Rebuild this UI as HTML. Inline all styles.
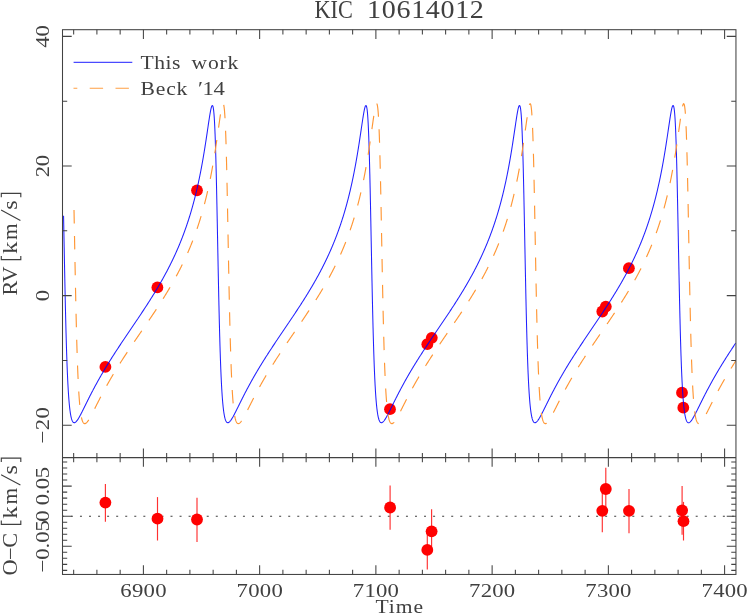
<!DOCTYPE html>
<html><head><meta charset="utf-8"><title>KIC 10614012</title>
<style>
html,body{margin:0;padding:0;background:#fff;}
body{width:747px;height:614px;overflow:hidden;position:relative;font-family:"Liberation Serif",serif;}
</style></head><body>
<svg width="747" height="614" viewBox="0 0 747 614" style="position:absolute;left:0;top:0;display:block;opacity:0.999;will-change:transform">
<rect x="0" y="0" width="747" height="614" fill="#ffffff"/>
<defs><clipPath id="cu"><rect x="62.5" y="29.7" width="673.45" height="427.90000000000003"/></clipPath></defs>
<g fill="#ff0000">
<circle cx="105.4" cy="366.9" r="5.9"/>
<circle cx="157.4" cy="287.4" r="5.9"/>
<circle cx="197.0" cy="190.3" r="5.9"/>
<circle cx="390.0" cy="409.2" r="5.9"/>
<circle cx="427.3" cy="344.2" r="5.9"/>
<circle cx="431.8" cy="337.8" r="5.9"/>
<circle cx="602.3" cy="311.5" r="5.9"/>
<circle cx="605.8" cy="306.6" r="5.9"/>
<circle cx="628.9" cy="268.2" r="5.9"/>
<circle cx="682.0" cy="392.7" r="5.9"/>
<circle cx="683.3" cy="407.7" r="5.9"/>
</g>
<g clip-path="url(#cu)" fill="none" stroke-linejoin="round">
<path d="M63.56,215.82 L63.62,218.66 L63.67,221.52 L63.73,224.39 L63.78,227.28 L63.84,230.17 L63.90,233.07 L63.95,235.97 L64.01,238.88 L64.07,241.78 L64.12,244.69 L64.18,247.60 L64.24,250.50 L64.29,253.39 L64.35,256.28 L64.40,259.15 L64.46,262.02 L64.52,264.87 L64.57,267.71 L64.63,270.54 L64.69,273.34 L64.74,276.13 L64.80,278.89 L64.86,281.64 L64.91,284.36 L64.97,287.06 L65.02,289.74 L65.08,292.39 L65.14,295.01 L65.19,297.60 L65.25,300.17 L65.31,302.70 L65.36,305.21 L65.42,307.68 L65.48,310.12 L65.53,312.54 L65.59,314.91 L65.64,317.26 L65.70,319.57 L65.76,321.85 L65.81,324.10 L65.87,326.31 L65.93,328.48 L65.98,330.62 L66.04,332.73 L66.10,334.80 L66.15,336.84 L66.21,338.85 L66.27,340.81 L66.32,342.75 L66.38,344.65 L66.43,346.51 L66.49,348.34 L66.55,350.14 L66.60,351.90 L66.66,353.63 L66.72,355.33 L66.77,357.00 L66.83,358.63 L66.89,360.23 L66.94,361.80 L67.00,363.33 L67.05,364.84 L67.11,366.31 L67.17,367.76 L67.22,369.17 L67.28,370.56 L67.34,371.91 L67.39,373.24 L67.45,374.54 L67.51,375.81 L67.56,377.05 L67.62,378.27 L67.67,379.46 L67.73,380.62 L67.79,381.76 L67.84,382.88 L67.90,383.96 L67.96,385.03 L68.01,386.07 L68.07,387.08 L68.13,388.08 L68.18,389.05 L68.24,390.00 L68.29,390.92 L68.35,391.83 L68.41,392.71 L68.46,393.58 L68.52,394.42 L68.58,395.25 L68.63,396.05 L68.69,396.84 L68.75,397.60 L68.80,398.35 L68.86,399.08 L68.91,399.80 L68.97,400.49 L69.03,401.17 L69.08,401.83 L69.14,402.48 L69.20,403.11 L69.25,403.73 L69.31,404.33 L69.42,405.48 L69.53,406.58 L69.65,407.62 L69.76,408.61 L69.87,409.55 L69.99,410.45 L70.10,411.29 L70.21,412.10 L70.32,412.86 L70.44,413.58 L70.55,414.26 L70.66,414.90 L70.78,415.51 L70.94,416.36 L71.11,417.13 L71.28,417.84 L71.45,418.49 L71.62,419.07 L71.85,419.77 L72.07,420.37 L72.35,421.00 L72.69,421.61 L73.09,422.13 L73.59,422.55 L74.21,422.72 L74.83,422.61 L75.40,422.30 L75.91,421.88 L76.36,421.42 L76.75,420.95 L77.15,420.44 L77.54,419.89 L77.88,419.38 L78.22,418.85 L78.55,418.30 L78.89,417.73 L79.23,417.14 L79.57,416.54 L79.91,415.93 L80.25,415.30 L80.58,414.67 L80.87,414.13 L81.15,413.59 L81.43,413.04 L81.71,412.49 L81.99,411.94 L82.28,411.38 L82.56,410.82 L82.84,410.26 L83.12,409.69 L83.40,409.13 L83.69,408.56 L83.97,407.99 L84.25,407.42 L84.53,406.85 L84.81,406.28 L85.09,405.71 L85.38,405.14 L85.66,404.57 L85.94,404.00 L86.22,403.43 L86.50,402.86 L86.79,402.29 L87.07,401.72 L87.35,401.16 L87.63,400.59 L87.91,400.03 L88.20,399.46 L88.48,398.90 L88.76,398.34 L89.04,397.78 L89.32,397.22 L89.60,396.67 L89.89,396.11 L90.17,395.56 L90.45,395.01 L90.73,394.46 L91.01,393.91 L91.30,393.36 L91.58,392.82 L91.86,392.28 L92.14,391.73 L92.42,391.19 L92.71,390.66 L92.99,390.12 L93.27,389.58 L93.55,389.05 L93.83,388.52 L94.17,387.89 L94.51,387.25 L94.85,386.62 L95.19,386.00 L95.52,385.37 L95.86,384.75 L96.20,384.13 L96.54,383.51 L96.88,382.89 L97.22,382.28 L97.55,381.67 L97.89,381.06 L98.23,380.46 L98.57,379.85 L98.91,379.25 L99.24,378.65 L99.58,378.06 L99.92,377.46 L100.26,376.87 L100.60,376.28 L100.94,375.69 L101.27,375.11 L101.61,374.52 L101.95,373.94 L102.29,373.36 L102.63,372.79 L102.97,372.21 L103.30,371.64 L103.64,371.06 L103.98,370.50 L104.32,369.93 L104.66,369.36 L105.00,368.80 L105.33,368.23 L105.67,367.67 L106.01,367.12 L106.35,366.56 L106.69,366.00 L107.02,365.45 L107.36,364.90 L107.70,364.35 L108.04,363.80 L108.38,363.25 L108.72,362.70 L109.05,362.16 L109.39,361.62 L109.73,361.07 L110.07,360.53 L110.41,359.99 L110.75,359.46 L111.08,358.92 L111.42,358.39 L111.76,357.85 L112.10,357.32 L112.44,356.79 L112.77,356.26 L113.11,355.73 L113.45,355.20 L113.79,354.68 L114.13,354.15 L114.47,353.63 L114.80,353.10 L115.14,352.58 L115.48,352.06 L115.82,351.54 L116.16,351.02 L116.50,350.50 L116.83,349.98 L117.17,349.47 L117.51,348.95 L117.85,348.43 L118.19,347.92 L118.53,347.41 L118.86,346.89 L119.20,346.38 L119.54,345.87 L119.88,345.36 L120.22,344.85 L120.55,344.34 L120.89,343.83 L121.23,343.32 L121.57,342.82 L121.91,342.31 L122.25,341.80 L122.58,341.30 L122.92,340.79 L123.26,340.29 L123.60,339.78 L123.94,339.28 L124.28,338.78 L124.61,338.27 L124.95,337.77 L125.29,337.27 L125.63,336.77 L125.97,336.27 L126.31,335.76 L126.64,335.26 L126.98,334.76 L127.32,334.26 L127.66,333.76 L128.00,333.26 L128.33,332.76 L128.67,332.26 L129.01,331.76 L129.35,331.26 L129.69,330.76 L130.03,330.26 L130.36,329.76 L130.70,329.26 L131.04,328.76 L131.38,328.26 L131.72,327.77 L132.06,327.27 L132.39,326.77 L132.73,326.27 L133.07,325.77 L133.41,325.27 L133.75,324.77 L134.08,324.27 L134.42,323.77 L134.76,323.27 L135.10,322.76 L135.44,322.26 L135.78,321.76 L136.11,321.26 L136.45,320.76 L136.79,320.26 L137.13,319.75 L137.47,319.25 L137.81,318.75 L138.14,318.24 L138.48,317.74 L138.82,317.23 L139.16,316.73 L139.50,316.22 L139.84,315.71 L140.17,315.21 L140.51,314.70 L140.85,314.19 L141.19,313.68 L141.53,313.17 L141.86,312.66 L142.20,312.15 L142.54,311.64 L142.88,311.13 L143.22,310.62 L143.56,310.10 L143.89,309.59 L144.23,309.07 L144.57,308.56 L144.91,308.04 L145.25,307.52 L145.59,307.00 L145.92,306.48 L146.26,305.96 L146.60,305.44 L146.94,304.92 L147.28,304.39 L147.61,303.87 L147.95,303.34 L148.29,302.82 L148.63,302.29 L148.97,301.76 L149.31,301.23 L149.64,300.70 L149.98,300.16 L150.32,299.63 L150.66,299.09 L151.00,298.56 L151.34,298.02 L151.67,297.48 L152.01,296.94 L152.35,296.39 L152.69,295.85 L153.03,295.30 L153.37,294.76 L153.70,294.21 L154.04,293.66 L154.38,293.11 L154.72,292.55 L155.06,292.00 L155.39,291.44 L155.73,290.88 L156.07,290.32 L156.41,289.76 L156.75,289.19 L157.09,288.63 L157.42,288.06 L157.76,287.49 L158.10,286.92 L158.44,286.34 L158.78,285.77 L159.12,285.19 L159.45,284.61 L159.79,284.03 L160.13,283.44 L160.47,282.85 L160.81,282.26 L161.15,281.67 L161.48,281.08 L161.82,280.48 L162.16,279.88 L162.50,279.28 L162.84,278.68 L163.17,278.07 L163.51,277.46 L163.85,276.85 L164.19,276.23 L164.53,275.61 L164.87,274.99 L165.20,274.37 L165.54,273.74 L165.88,273.11 L166.22,272.48 L166.50,271.95 L166.78,271.41 L167.06,270.88 L167.35,270.34 L167.63,269.80 L167.91,269.26 L168.19,268.72 L168.47,268.17 L168.76,267.62 L169.04,267.07 L169.32,266.52 L169.60,265.96 L169.88,265.40 L170.17,264.84 L170.45,264.28 L170.73,263.71 L171.01,263.14 L171.29,262.57 L171.57,261.99 L171.86,261.41 L172.14,260.83 L172.42,260.25 L172.70,259.66 L172.98,259.07 L173.27,258.48 L173.55,257.88 L173.83,257.28 L174.11,256.68 L174.39,256.07 L174.68,255.46 L174.96,254.85 L175.24,254.23 L175.52,253.61 L175.80,252.98 L176.08,252.36 L176.37,251.72 L176.65,251.09 L176.93,250.45 L177.21,249.81 L177.49,249.16 L177.78,248.51 L178.06,247.85 L178.34,247.19 L178.62,246.53 L178.90,245.86 L179.19,245.19 L179.47,244.51 L179.75,243.83 L180.03,243.14 L180.31,242.45 L180.54,241.89 L180.76,241.33 L180.99,240.77 L181.21,240.20 L181.44,239.64 L181.67,239.06 L181.89,238.49 L182.12,237.91 L182.34,237.33 L182.57,236.74 L182.79,236.15 L183.02,235.56 L183.24,234.96 L183.47,234.36 L183.70,233.75 L183.92,233.15 L184.15,232.53 L184.37,231.92 L184.60,231.30 L184.82,230.68 L185.05,230.05 L185.27,229.42 L185.50,228.78 L185.72,228.14 L185.95,227.49 L186.18,226.84 L186.40,226.19 L186.63,225.53 L186.85,224.87 L187.08,224.20 L187.30,223.53 L187.53,222.85 L187.75,222.17 L187.98,221.48 L188.21,220.79 L188.43,220.10 L188.66,219.39 L188.88,218.69 L189.11,217.97 L189.33,217.25 L189.56,216.53 L189.78,215.80 L190.01,215.07 L190.23,214.32 L190.46,213.58 L190.69,212.82 L190.91,212.06 L191.14,211.30 L191.31,210.72 L191.48,210.14 L191.64,209.55 L191.81,208.96 L191.98,208.37 L192.15,207.78 L192.32,207.17 L192.49,206.57 L192.66,205.96 L192.83,205.35 L193.00,204.73 L193.17,204.11 L193.34,203.49 L193.50,202.86 L193.67,202.23 L193.84,201.59 L194.01,200.95 L194.18,200.30 L194.35,199.65 L194.52,199.00 L194.69,198.34 L194.86,197.67 L195.03,197.00 L195.20,196.33 L195.37,195.65 L195.53,194.97 L195.70,194.28 L195.87,193.59 L196.04,192.89 L196.21,192.18 L196.38,191.48 L196.55,190.76 L196.72,190.04 L196.89,189.32 L197.06,188.59 L197.23,187.85 L197.39,187.11 L197.56,186.36 L197.73,185.61 L197.90,184.85 L198.07,184.08 L198.24,183.31 L198.41,182.54 L198.58,181.75 L198.75,180.96 L198.92,180.17 L199.09,179.37 L199.25,178.56 L199.42,177.74 L199.59,176.92 L199.76,176.09 L199.93,175.26 L200.10,174.42 L200.27,173.57 L200.44,172.71 L200.61,171.85 L200.78,170.98 L200.95,170.10 L201.12,169.22 L201.23,168.62 L201.34,168.03 L201.45,167.42 L201.57,166.82 L201.68,166.21 L201.79,165.60 L201.90,164.99 L202.02,164.37 L202.13,163.75 L202.24,163.13 L202.36,162.50 L202.47,161.87 L202.58,161.23 L202.69,160.60 L202.81,159.95 L202.92,159.31 L203.03,158.66 L203.14,158.01 L203.26,157.35 L203.37,156.69 L203.48,156.03 L203.60,155.36 L203.71,154.69 L203.82,154.02 L203.93,153.34 L204.05,152.66 L204.16,151.98 L204.27,151.29 L204.39,150.60 L204.50,149.90 L204.61,149.21 L204.72,148.50 L204.84,147.80 L204.95,147.09 L205.06,146.38 L205.17,145.66 L205.29,144.95 L205.40,144.22 L205.51,143.50 L205.63,142.77 L205.74,142.04 L205.85,141.31 L205.96,140.57 L206.08,139.83 L206.19,139.09 L206.30,138.35 L206.41,137.60 L206.53,136.85 L206.64,136.10 L206.75,135.34 L206.87,134.59 L206.98,133.83 L207.09,133.07 L207.20,132.31 L207.32,131.55 L207.43,130.79 L207.54,130.03 L207.65,129.26 L207.77,128.50 L207.88,127.74 L207.99,126.97 L208.11,126.21 L208.22,125.45 L208.33,124.69 L208.44,123.93 L208.56,123.18 L208.67,122.43 L208.78,121.68 L208.90,120.93 L209.01,120.19 L209.12,119.46 L209.23,118.73 L209.35,118.01 L209.46,117.29 L209.57,116.59 L209.68,115.89 L209.80,115.20 L209.91,114.52 L210.02,113.86 L210.14,113.21 L210.25,112.57 L210.36,111.95 L210.47,111.34 L210.64,110.47 L210.81,109.64 L210.98,108.87 L211.15,108.15 L211.32,107.50 L211.49,106.92 L211.71,106.28 L212.00,105.71 L212.62,105.62 L212.90,106.23 L213.07,106.83 L213.24,107.64 L213.35,108.29 L213.46,109.05 L213.57,109.91 L213.69,110.88 L213.80,111.98 L213.91,113.19 L213.97,113.85 L214.03,114.54 L214.08,115.26 L214.14,116.02 L214.19,116.81 L214.25,117.64 L214.31,118.50 L214.36,119.40 L214.42,120.34 L214.48,121.32 L214.53,122.34 L214.59,123.40 L214.65,124.50 L214.70,125.64 L214.76,126.83 L214.81,128.05 L214.87,129.32 L214.93,130.63 L214.98,131.99 L215.04,133.39 L215.10,134.83 L215.15,136.32 L215.21,137.86 L215.27,139.44 L215.32,141.07 L215.38,142.74 L215.43,144.46 L215.49,146.23 L215.55,148.04 L215.60,149.90 L215.66,151.81 L215.72,153.76 L215.77,155.76 L215.83,157.80 L215.89,159.89 L215.94,162.02 L216.00,164.19 L216.05,166.41 L216.11,168.67 L216.17,170.98 L216.22,173.32 L216.28,175.71 L216.34,178.13 L216.39,180.59 L216.45,183.09 L216.51,185.62 L216.56,188.19 L216.62,190.79 L216.67,193.42 L216.73,196.08 L216.79,198.77 L216.84,201.49 L216.90,204.24 L216.96,207.00 L217.01,209.79 L217.07,212.60 L217.13,215.43 L217.18,218.27 L217.24,221.13 L217.30,224.00 L217.35,226.88 L217.41,229.77 L217.46,232.67 L217.52,235.57 L217.58,238.48 L217.63,241.38 L217.69,244.29 L217.75,247.20 L217.80,250.10 L217.86,252.99 L217.92,255.88 L217.97,258.76 L218.03,261.63 L218.08,264.48 L218.14,267.32 L218.20,270.15 L218.25,272.96 L218.31,275.75 L218.37,278.52 L218.42,281.26 L218.48,283.99 L218.54,286.69 L218.59,289.37 L218.65,292.02 L218.70,294.65 L218.76,297.25 L218.82,299.81 L218.87,302.35 L218.93,304.86 L218.99,307.34 L219.04,309.79 L219.10,312.21 L219.16,314.59 L219.21,316.94 L219.27,319.26 L219.32,321.54 L219.38,323.79 L219.44,326.01 L219.49,328.19 L219.55,330.33 L219.61,332.44 L219.66,334.52 L219.72,336.56 L219.78,338.57 L219.83,340.55 L219.89,342.48 L219.94,344.39 L220.00,346.26 L220.06,348.09 L220.11,349.90 L220.17,351.66 L220.23,353.40 L220.28,355.10 L220.34,356.77 L220.40,358.41 L220.45,360.01 L220.51,361.58 L220.56,363.12 L220.62,364.63 L220.68,366.11 L220.73,367.56 L220.79,368.98 L220.85,370.37 L220.90,371.73 L220.96,373.06 L221.02,374.36 L221.07,375.64 L221.13,376.88 L221.19,378.10 L221.24,379.30 L221.30,380.47 L221.35,381.61 L221.41,382.72 L221.47,383.82 L221.52,384.88 L221.58,385.93 L221.64,386.95 L221.69,387.94 L221.75,388.92 L221.81,389.87 L221.86,390.80 L221.92,391.71 L221.97,392.59 L222.03,393.46 L222.09,394.31 L222.14,395.13 L222.20,395.94 L222.26,396.73 L222.31,397.50 L222.37,398.25 L222.43,398.98 L222.48,399.70 L222.54,400.40 L222.59,401.08 L222.65,401.74 L222.71,402.39 L222.76,403.02 L222.82,403.64 L222.88,404.24 L222.99,405.40 L223.10,406.51 L223.21,407.55 L223.33,408.55 L223.44,409.49 L223.55,410.39 L223.67,411.24 L223.78,412.04 L223.89,412.81 L224.00,413.53 L224.12,414.21 L224.23,414.86 L224.34,415.47 L224.51,416.32 L224.68,417.10 L224.85,417.81 L225.02,418.46 L225.19,419.05 L225.41,419.74 L225.64,420.35 L225.92,420.99 L226.26,421.60 L226.65,422.12 L227.16,422.54 L227.78,422.72 L228.40,422.61 L228.96,422.30 L229.47,421.89 L229.92,421.43 L230.32,420.96 L230.71,420.45 L231.11,419.90 L231.45,419.39 L231.78,418.86 L232.12,418.31 L232.46,417.74 L232.80,417.16 L233.14,416.56 L233.47,415.94 L233.81,415.32 L234.15,414.68 L234.43,414.15 L234.72,413.61 L235.00,413.06 L235.28,412.51 L235.56,411.95 L235.84,411.40 L236.12,410.84 L236.41,410.27 L236.69,409.71 L236.97,409.14 L237.25,408.58 L237.53,408.01 L237.82,407.44 L238.10,406.87 L238.38,406.30 L238.66,405.73 L238.94,405.15 L239.23,404.58 L239.51,404.01 L239.79,403.44 L240.07,402.88 L240.35,402.31 L240.63,401.74 L240.92,401.17 L241.20,400.61 L241.48,400.04 L241.76,399.48 L242.04,398.92 L242.33,398.36 L242.61,397.80 L242.89,397.24 L243.17,396.68 L243.45,396.13 L243.74,395.58 L244.02,395.02 L244.30,394.47 L244.58,393.93 L244.86,393.38 L245.14,392.83 L245.43,392.29 L245.71,391.75 L245.99,391.21 L246.27,390.67 L246.55,390.13 L246.84,389.60 L247.12,389.07 L247.40,388.53 L247.74,387.90 L248.08,387.27 L248.41,386.64 L248.75,386.01 L249.09,385.38 L249.43,384.76 L249.77,384.14 L250.11,383.52 L250.44,382.91 L250.78,382.30 L251.12,381.68 L251.46,381.08 L251.80,380.47 L252.14,379.87 L252.47,379.27 L252.81,378.67 L253.15,378.07 L253.49,377.48 L253.83,376.88 L254.16,376.29 L254.50,375.71 L254.84,375.12 L255.18,374.54 L255.52,373.96 L255.86,373.38 L256.19,372.80 L256.53,372.22 L256.87,371.65 L257.21,371.08 L257.55,370.51 L257.89,369.94 L258.22,369.37 L258.56,368.81 L258.90,368.25 L259.24,367.69 L259.58,367.13 L259.92,366.57 L260.25,366.02 L260.59,365.46 L260.93,364.91 L261.27,364.36 L261.61,363.81 L261.94,363.26 L262.28,362.72 L262.62,362.17 L262.96,361.63 L263.30,361.09 L263.64,360.55 L263.97,360.01 L264.31,359.47 L264.65,358.93 L264.99,358.40 L265.33,357.86 L265.67,357.33 L266.00,356.80 L266.34,356.27 L266.68,355.74 L267.02,355.21 L267.36,354.69 L267.69,354.16 L268.03,353.64 L268.37,353.11 L268.71,352.59 L269.05,352.07 L269.39,351.55 L269.72,351.03 L270.06,350.51 L270.40,349.99 L270.74,349.48 L271.08,348.96 L271.42,348.45 L271.75,347.93 L272.09,347.42 L272.43,346.91 L272.77,346.39 L273.11,345.88 L273.45,345.37 L273.78,344.86 L274.12,344.35 L274.46,343.84 L274.80,343.34 L275.14,342.83 L275.47,342.32 L275.81,341.82 L276.15,341.31 L276.49,340.81 L276.83,340.30 L277.17,339.80 L277.50,339.29 L277.84,338.79 L278.18,338.29 L278.52,337.78 L278.86,337.28 L279.20,336.78 L279.53,336.28 L279.87,335.78 L280.21,335.27 L280.55,334.77 L280.89,334.27 L281.22,333.77 L281.56,333.27 L281.90,332.77 L282.24,332.27 L282.58,331.77 L282.92,331.27 L283.25,330.77 L283.59,330.27 L283.93,329.77 L284.27,329.27 L284.61,328.78 L284.95,328.28 L285.28,327.78 L285.62,327.28 L285.96,326.78 L286.30,326.28 L286.64,325.78 L286.98,325.28 L287.31,324.78 L287.65,324.28 L287.99,323.78 L288.33,323.28 L288.67,322.78 L289.00,322.27 L289.34,321.77 L289.68,321.27 L290.02,320.77 L290.36,320.27 L290.70,319.76 L291.03,319.26 L291.37,318.76 L291.71,318.25 L292.05,317.75 L292.39,317.24 L292.73,316.74 L293.06,316.23 L293.40,315.73 L293.74,315.22 L294.08,314.71 L294.42,314.20 L294.76,313.69 L295.09,313.19 L295.43,312.68 L295.77,312.16 L296.11,311.65 L296.45,311.14 L296.78,310.63 L297.12,310.11 L297.46,309.60 L297.80,309.08 L298.14,308.57 L298.48,308.05 L298.81,307.53 L299.15,307.01 L299.49,306.50 L299.83,305.97 L300.17,305.45 L300.51,304.93 L300.84,304.41 L301.18,303.88 L301.52,303.36 L301.86,302.83 L302.20,302.30 L302.53,301.77 L302.87,301.24 L303.21,300.71 L303.55,300.18 L303.89,299.64 L304.23,299.11 L304.56,298.57 L304.90,298.03 L305.24,297.49 L305.58,296.95 L305.92,296.41 L306.26,295.86 L306.59,295.32 L306.93,294.77 L307.27,294.22 L307.61,293.67 L307.95,293.12 L308.29,292.57 L308.62,292.01 L308.96,291.45 L309.30,290.89 L309.64,290.33 L309.98,289.77 L310.31,289.21 L310.65,288.64 L310.99,288.07 L311.33,287.50 L311.67,286.93 L312.01,286.36 L312.34,285.78 L312.68,285.20 L313.02,284.62 L313.36,284.04 L313.70,283.45 L314.04,282.87 L314.37,282.28 L314.71,281.69 L315.05,281.09 L315.39,280.49 L315.73,279.90 L316.07,279.29 L316.40,278.69 L316.74,278.08 L317.08,277.47 L317.42,276.86 L317.76,276.24 L318.09,275.63 L318.43,275.01 L318.77,274.38 L319.11,273.75 L319.45,273.12 L319.79,272.49 L320.07,271.96 L320.35,271.43 L320.63,270.90 L320.91,270.36 L321.20,269.82 L321.48,269.28 L321.76,268.73 L322.04,268.19 L322.32,267.64 L322.60,267.09 L322.89,266.53 L323.17,265.98 L323.45,265.42 L323.73,264.86 L324.01,264.29 L324.30,263.73 L324.58,263.16 L324.86,262.58 L325.14,262.01 L325.42,261.43 L325.71,260.85 L325.99,260.26 L326.27,259.68 L326.55,259.09 L326.83,258.49 L327.11,257.90 L327.40,257.30 L327.68,256.69 L327.96,256.09 L328.24,255.48 L328.52,254.86 L328.81,254.25 L329.09,253.63 L329.37,253.00 L329.65,252.37 L329.93,251.74 L330.22,251.11 L330.50,250.47 L330.78,249.82 L331.06,249.18 L331.34,248.52 L331.62,247.87 L331.91,247.21 L332.19,246.55 L332.47,245.88 L332.75,245.20 L333.03,244.53 L333.32,243.85 L333.60,243.16 L333.88,242.47 L334.11,241.91 L334.33,241.35 L334.56,240.79 L334.78,240.22 L335.01,239.65 L335.23,239.08 L335.46,238.51 L335.68,237.93 L335.91,237.35 L336.13,236.76 L336.36,236.17 L336.59,235.58 L336.81,234.98 L337.04,234.38 L337.26,233.78 L337.49,233.17 L337.71,232.56 L337.94,231.94 L338.16,231.32 L338.39,230.70 L338.62,230.07 L338.84,229.44 L339.07,228.80 L339.29,228.16 L339.52,227.52 L339.74,226.87 L339.97,226.21 L340.19,225.56 L340.42,224.89 L340.64,224.23 L340.87,223.55 L341.10,222.88 L341.32,222.20 L341.55,221.51 L341.77,220.82 L342.00,220.12 L342.22,219.42 L342.45,218.71 L342.67,218.00 L342.90,217.28 L343.13,216.56 L343.35,215.83 L343.58,215.09 L343.80,214.35 L344.03,213.60 L344.25,212.85 L344.48,212.09 L344.70,211.33 L344.87,210.75 L345.04,210.17 L345.21,209.58 L345.38,208.99 L345.55,208.40 L345.72,207.80 L345.89,207.20 L346.06,206.60 L346.23,205.99 L346.40,205.38 L346.56,204.76 L346.73,204.14 L346.90,203.52 L347.07,202.89 L347.24,202.26 L347.41,201.62 L347.58,200.98 L347.75,200.33 L347.92,199.68 L348.09,199.03 L348.26,198.37 L348.42,197.70 L348.59,197.03 L348.76,196.36 L348.93,195.68 L349.10,195.00 L349.27,194.31 L349.44,193.62 L349.61,192.92 L349.78,192.22 L349.95,191.51 L350.12,190.79 L350.28,190.07 L350.45,189.35 L350.62,188.62 L350.79,187.88 L350.96,187.14 L351.13,186.40 L351.30,185.64 L351.47,184.88 L351.64,184.12 L351.81,183.35 L351.98,182.57 L352.15,181.79 L352.31,181.00 L352.48,180.21 L352.65,179.40 L352.82,178.60 L352.99,177.78 L353.16,176.96 L353.33,176.13 L353.50,175.30 L353.67,174.45 L353.84,173.61 L354.01,172.75 L354.17,171.89 L354.34,171.02 L354.51,170.14 L354.68,169.26 L354.80,168.66 L354.91,168.07 L355.02,167.47 L355.13,166.86 L355.25,166.26 L355.36,165.65 L355.47,165.03 L355.58,164.41 L355.70,163.79 L355.81,163.17 L355.92,162.54 L356.04,161.91 L356.15,161.28 L356.26,160.64 L356.37,160.00 L356.49,159.35 L356.60,158.70 L356.71,158.05 L356.82,157.40 L356.94,156.74 L357.05,156.07 L357.16,155.41 L357.28,154.74 L357.39,154.07 L357.50,153.39 L357.61,152.71 L357.73,152.02 L357.84,151.34 L357.95,150.65 L358.06,149.95 L358.18,149.25 L358.29,148.55 L358.40,147.85 L358.52,147.14 L358.63,146.43 L358.74,145.71 L358.85,145.00 L358.97,144.27 L359.08,143.55 L359.19,142.82 L359.31,142.09 L359.42,141.36 L359.53,140.62 L359.64,139.88 L359.76,139.14 L359.87,138.40 L359.98,137.65 L360.09,136.90 L360.21,136.15 L360.32,135.40 L360.43,134.64 L360.55,133.88 L360.66,133.12 L360.77,132.36 L360.88,131.60 L361.00,130.84 L361.11,130.08 L361.22,129.32 L361.33,128.55 L361.45,127.79 L361.56,127.03 L361.67,126.26 L361.79,125.50 L361.90,124.74 L362.01,123.99 L362.12,123.23 L362.24,122.48 L362.35,121.73 L362.46,120.99 L362.57,120.25 L362.69,119.51 L362.80,118.78 L362.91,118.06 L363.03,117.34 L363.14,116.63 L363.25,115.94 L363.36,115.25 L363.48,114.57 L363.59,113.90 L363.70,113.25 L363.82,112.61 L363.93,111.99 L364.04,111.38 L364.21,110.51 L364.38,109.68 L364.55,108.90 L364.72,108.18 L364.89,107.53 L365.06,106.95 L365.28,106.30 L365.56,105.72 L366.18,105.61 L366.46,106.21 L366.63,106.80 L366.80,107.60 L366.92,108.24 L367.03,108.99 L367.14,109.85 L367.25,110.81 L367.37,111.90 L367.48,113.10 L367.54,113.75 L367.59,114.44 L367.65,115.16 L367.71,115.91 L367.76,116.70 L367.82,117.52 L367.87,118.38 L367.93,119.28 L367.99,120.21 L368.04,121.19 L368.10,122.20 L368.16,123.25 L368.21,124.35 L368.27,125.48 L368.33,126.66 L368.38,127.88 L368.44,129.14 L368.49,130.45 L368.55,131.80 L368.61,133.19 L368.66,134.63 L368.72,136.12 L368.78,137.65 L368.83,139.22 L368.89,140.84 L368.95,142.51 L369.00,144.23 L369.06,145.99 L369.11,147.79 L369.17,149.65 L369.23,151.54 L369.28,153.49 L369.34,155.48 L369.40,157.52 L369.45,159.60 L369.51,161.72 L369.57,163.89 L369.62,166.11 L369.68,168.36 L369.73,170.66 L369.79,173.00 L369.85,175.38 L369.90,177.79 L369.96,180.25 L370.02,182.74 L370.07,185.27 L370.13,187.83 L370.19,190.43 L370.24,193.06 L370.30,195.72 L370.35,198.40 L370.41,201.12 L370.47,203.86 L370.52,206.62 L370.58,209.41 L370.64,212.21 L370.69,215.04 L370.75,217.88 L370.81,220.73 L370.86,223.60 L370.92,226.48 L370.97,229.37 L371.03,232.27 L371.09,235.17 L371.14,238.08 L371.20,240.99 L371.26,243.89 L371.31,246.80 L371.37,249.70 L371.43,252.60 L371.48,255.48 L371.54,258.36 L371.59,261.23 L371.65,264.09 L371.71,266.93 L371.76,269.76 L371.82,272.57 L371.88,275.36 L371.93,278.14 L371.99,280.89 L372.05,283.62 L372.10,286.32 L372.16,289.00 L372.22,291.66 L372.27,294.29 L372.33,296.89 L372.38,299.46 L372.44,302.01 L372.50,304.52 L372.55,307.00 L372.61,309.46 L372.67,311.88 L372.72,314.26 L372.78,316.62 L372.84,318.94 L372.89,321.23 L372.95,323.48 L373.00,325.70 L373.06,327.89 L373.12,330.04 L373.17,332.16 L373.23,334.24 L373.29,336.29 L373.34,338.30 L373.40,340.28 L373.46,342.22 L373.51,344.13 L373.57,346.00 L373.62,347.84 L373.68,349.65 L373.74,351.42 L373.79,353.16 L373.85,354.87 L373.91,356.54 L373.96,358.18 L374.02,359.79 L374.08,361.37 L374.13,362.91 L374.19,364.43 L374.24,365.91 L374.30,367.36 L374.36,368.79 L374.41,370.18 L374.47,371.54 L374.53,372.88 L374.58,374.18 L374.64,375.46 L374.70,376.71 L374.75,377.94 L374.81,379.14 L374.86,380.31 L374.92,381.45 L374.98,382.57 L375.03,383.67 L375.09,384.74 L375.15,385.78 L375.20,386.81 L375.26,387.81 L375.32,388.78 L375.37,389.74 L375.43,390.67 L375.48,391.58 L375.54,392.47 L375.60,393.34 L375.65,394.19 L375.71,395.02 L375.77,395.83 L375.82,396.62 L375.88,397.39 L375.94,398.15 L375.99,398.88 L376.05,399.60 L376.10,400.30 L376.16,400.99 L376.22,401.65 L376.27,402.30 L376.33,402.94 L376.39,403.56 L376.44,404.16 L376.56,405.33 L376.67,406.43 L376.78,407.48 L376.89,408.48 L377.01,409.43 L377.12,410.33 L377.23,411.18 L377.35,411.99 L377.46,412.75 L377.57,413.48 L377.68,414.17 L377.80,414.81 L377.91,415.43 L378.08,416.28 L378.25,417.06 L378.42,417.78 L378.59,418.43 L378.75,419.02 L378.98,419.72 L379.21,420.33 L379.49,420.97 L379.83,421.59 L380.22,422.12 L380.73,422.54 L381.35,422.72 L381.97,422.61 L382.53,422.31 L383.04,421.89 L383.49,421.43 L383.88,420.97 L384.28,420.46 L384.67,419.91 L385.01,419.40 L385.35,418.88 L385.69,418.33 L386.03,417.76 L386.37,417.17 L386.70,416.57 L387.04,415.96 L387.38,415.33 L387.72,414.70 L388.00,414.16 L388.28,413.62 L388.56,413.07 L388.85,412.52 L389.13,411.97 L389.41,411.41 L389.69,410.85 L389.97,410.29 L390.26,409.73 L390.54,409.16 L390.82,408.59 L391.10,408.02 L391.38,407.45 L391.66,406.88 L391.95,406.31 L392.23,405.74 L392.51,405.17 L392.79,404.60 L393.07,404.03 L393.36,403.46 L393.64,402.89 L393.92,402.32 L394.20,401.75 L394.48,401.19 L394.77,400.62 L395.05,400.06 L395.33,399.49 L395.61,398.93 L395.89,398.37 L396.17,397.81 L396.46,397.26 L396.74,396.70 L397.02,396.14 L397.30,395.59 L397.58,395.04 L397.87,394.49 L398.15,393.94 L398.43,393.39 L398.71,392.85 L398.99,392.30 L399.28,391.76 L399.56,391.22 L399.84,390.69 L400.12,390.15 L400.40,389.61 L400.68,389.08 L400.97,388.55 L401.30,387.91 L401.64,387.28 L401.98,386.65 L402.32,386.02 L402.66,385.40 L403.00,384.78 L403.33,384.16 L403.67,383.54 L404.01,382.92 L404.35,382.31 L404.69,381.70 L405.03,381.09 L405.36,380.48 L405.70,379.88 L406.04,379.28 L406.38,378.68 L406.72,378.08 L407.06,377.49 L407.39,376.90 L407.73,376.31 L408.07,375.72 L408.41,375.13 L408.75,374.55 L409.08,373.97 L409.42,373.39 L409.76,372.81 L410.10,372.24 L410.44,371.66 L410.78,371.09 L411.11,370.52 L411.45,369.95 L411.79,369.39 L412.13,368.82 L412.47,368.26 L412.81,367.70 L413.14,367.14 L413.48,366.58 L413.82,366.03 L414.16,365.47 L414.50,364.92 L414.83,364.37 L415.17,363.82 L415.51,363.27 L415.85,362.73 L416.19,362.18 L416.53,361.64 L416.86,361.10 L417.20,360.56 L417.54,360.02 L417.88,359.48 L418.22,358.95 L418.56,358.41 L418.89,357.88 L419.23,357.34 L419.57,356.81 L419.91,356.28 L420.25,355.75 L420.59,355.23 L420.92,354.70 L421.26,354.17 L421.60,353.65 L421.94,353.13 L422.28,352.60 L422.61,352.08 L422.95,351.56 L423.29,351.04 L423.63,350.52 L423.97,350.01 L424.31,349.49 L424.64,348.97 L424.98,348.46 L425.32,347.94 L425.66,347.43 L426.00,346.92 L426.34,346.41 L426.67,345.89 L427.01,345.38 L427.35,344.87 L427.69,344.36 L428.03,343.86 L428.37,343.35 L428.70,342.84 L429.04,342.33 L429.38,341.83 L429.72,341.32 L430.06,340.82 L430.39,340.31 L430.73,339.81 L431.07,339.30 L431.41,338.80 L431.75,338.30 L432.09,337.79 L432.42,337.29 L432.76,336.79 L433.10,336.29 L433.44,335.79 L433.78,335.29 L434.12,334.79 L434.45,334.28 L434.79,333.78 L435.13,333.28 L435.47,332.78 L435.81,332.28 L436.14,331.78 L436.48,331.28 L436.82,330.78 L437.16,330.29 L437.50,329.79 L437.84,329.29 L438.17,328.79 L438.51,328.29 L438.85,327.79 L439.19,327.29 L439.53,326.79 L439.87,326.29 L440.20,325.79 L440.54,325.29 L440.88,324.79 L441.22,324.29 L441.56,323.79 L441.90,323.29 L442.23,322.79 L442.57,322.29 L442.91,321.78 L443.25,321.28 L443.59,320.78 L443.92,320.28 L444.26,319.78 L444.60,319.27 L444.94,318.77 L445.28,318.26 L445.62,317.76 L445.95,317.26 L446.29,316.75 L446.63,316.24 L446.97,315.74 L447.31,315.23 L447.65,314.72 L447.98,314.22 L448.32,313.71 L448.66,313.20 L449.00,312.69 L449.34,312.18 L449.68,311.67 L450.01,311.15 L450.35,310.64 L450.69,310.13 L451.03,309.61 L451.37,309.10 L451.70,308.58 L452.04,308.06 L452.38,307.55 L452.72,307.03 L453.06,306.51 L453.40,305.99 L453.73,305.46 L454.07,304.94 L454.41,304.42 L454.75,303.89 L455.09,303.37 L455.43,302.84 L455.76,302.31 L456.10,301.78 L456.44,301.25 L456.78,300.72 L457.12,300.19 L457.45,299.65 L457.79,299.12 L458.13,298.58 L458.47,298.04 L458.81,297.50 L459.15,296.96 L459.48,296.42 L459.82,295.88 L460.16,295.33 L460.50,294.78 L460.84,294.23 L461.18,293.68 L461.51,293.13 L461.85,292.58 L462.19,292.02 L462.53,291.47 L462.87,290.91 L463.21,290.35 L463.54,289.78 L463.88,289.22 L464.22,288.65 L464.56,288.09 L464.90,287.52 L465.23,286.94 L465.57,286.37 L465.91,285.79 L466.25,285.22 L466.59,284.64 L466.93,284.05 L467.26,283.47 L467.60,282.88 L467.94,282.29 L468.28,281.70 L468.62,281.10 L468.96,280.51 L469.29,279.91 L469.63,279.31 L469.97,278.70 L470.31,278.10 L470.65,277.49 L470.99,276.87 L471.32,276.26 L471.66,275.64 L472.00,275.02 L472.34,274.40 L472.68,273.77 L473.01,273.14 L473.35,272.51 L473.63,271.98 L473.92,271.44 L474.20,270.91 L474.48,270.37 L474.76,269.83 L475.04,269.29 L475.33,268.75 L475.61,268.20 L475.89,267.65 L476.17,267.10 L476.45,266.55 L476.74,265.99 L477.02,265.43 L477.30,264.87 L477.58,264.31 L477.86,263.74 L478.14,263.17 L478.43,262.60 L478.71,262.02 L478.99,261.45 L479.27,260.87 L479.55,260.28 L479.84,259.69 L480.12,259.10 L480.40,258.51 L480.68,257.91 L480.96,257.31 L481.25,256.71 L481.53,256.10 L481.81,255.49 L482.09,254.88 L482.37,254.26 L482.65,253.64 L482.94,253.02 L483.22,252.39 L483.50,251.76 L483.78,251.12 L484.06,250.48 L484.35,249.84 L484.63,249.19 L484.91,248.54 L485.19,247.89 L485.47,247.23 L485.76,246.56 L486.04,245.90 L486.32,245.22 L486.60,244.55 L486.88,243.86 L487.16,243.18 L487.45,242.49 L487.67,241.93 L487.90,241.37 L488.12,240.81 L488.35,240.24 L488.57,239.67 L488.80,239.10 L489.03,238.53 L489.25,237.95 L489.48,237.37 L489.70,236.78 L489.93,236.19 L490.15,235.60 L490.38,235.00 L490.60,234.40 L490.83,233.80 L491.05,233.19 L491.28,232.58 L491.51,231.96 L491.73,231.34 L491.96,230.72 L492.18,230.09 L492.41,229.46 L492.63,228.82 L492.86,228.18 L493.08,227.54 L493.31,226.89 L493.54,226.24 L493.76,225.58 L493.99,224.92 L494.21,224.25 L494.44,223.58 L494.66,222.90 L494.89,222.22 L495.11,221.53 L495.34,220.84 L495.56,220.14 L495.79,219.44 L496.02,218.73 L496.24,218.02 L496.47,217.30 L496.69,216.58 L496.92,215.85 L497.14,215.12 L497.37,214.38 L497.59,213.63 L497.82,212.88 L498.05,212.12 L498.27,211.35 L498.44,210.77 L498.61,210.19 L498.78,209.61 L498.95,209.02 L499.12,208.43 L499.29,207.83 L499.45,207.23 L499.62,206.63 L499.79,206.02 L499.96,205.41 L500.13,204.79 L500.30,204.17 L500.47,203.55 L500.64,202.92 L500.81,202.28 L500.98,201.65 L501.15,201.01 L501.32,200.36 L501.48,199.71 L501.65,199.06 L501.82,198.40 L501.99,197.73 L502.16,197.06 L502.33,196.39 L502.50,195.71 L502.67,195.03 L502.84,194.34 L503.01,193.65 L503.18,192.95 L503.34,192.25 L503.51,191.54 L503.68,190.83 L503.85,190.11 L504.02,189.38 L504.19,188.65 L504.36,187.92 L504.53,187.18 L504.70,186.43 L504.87,185.68 L505.04,184.92 L505.20,184.15 L505.37,183.38 L505.54,182.61 L505.71,181.83 L505.88,181.04 L506.05,180.24 L506.22,179.44 L506.39,178.63 L506.56,177.82 L506.73,177.00 L506.90,176.17 L507.07,175.33 L507.23,174.49 L507.40,173.65 L507.57,172.79 L507.74,171.93 L507.91,171.06 L508.08,170.18 L508.25,169.30 L508.36,168.70 L508.47,168.11 L508.59,167.51 L508.70,166.90 L508.81,166.30 L508.93,165.69 L509.04,165.07 L509.15,164.46 L509.26,163.84 L509.38,163.21 L509.49,162.59 L509.60,161.95 L509.71,161.32 L509.83,160.68 L509.94,160.04 L510.05,159.40 L510.17,158.75 L510.28,158.10 L510.39,157.44 L510.50,156.78 L510.62,156.12 L510.73,155.45 L510.84,154.79 L510.96,154.11 L511.07,153.44 L511.18,152.76 L511.29,152.07 L511.41,151.38 L511.52,150.69 L511.63,150.00 L511.74,149.30 L511.86,148.60 L511.97,147.90 L512.08,147.19 L512.20,146.48 L512.31,145.76 L512.42,145.04 L512.53,144.32 L512.65,143.60 L512.76,142.87 L512.87,142.14 L512.98,141.41 L513.10,140.67 L513.21,139.93 L513.32,139.19 L513.44,138.45 L513.55,137.70 L513.66,136.95 L513.77,136.20 L513.89,135.45 L514.00,134.69 L514.11,133.94 L514.23,133.18 L514.34,132.42 L514.45,131.66 L514.56,130.89 L514.68,130.13 L514.79,129.37 L514.90,128.60 L515.01,127.84 L515.13,127.08 L515.24,126.32 L515.35,125.56 L515.47,124.80 L515.58,124.04 L515.69,123.28 L515.80,122.53 L515.92,121.78 L516.03,121.04 L516.14,120.30 L516.25,119.56 L516.37,118.83 L516.48,118.11 L516.59,117.39 L516.71,116.68 L516.82,115.98 L516.93,115.29 L517.04,114.62 L517.16,113.95 L517.27,113.30 L517.38,112.66 L517.49,112.03 L517.61,111.42 L517.72,110.83 L517.89,109.99 L518.06,109.19 L518.23,108.45 L518.40,107.77 L518.57,107.16 L518.79,106.47 L519.07,105.83 L519.58,105.45 L519.98,106.03 L520.20,106.77 L520.37,107.56 L520.48,108.20 L520.60,108.94 L520.71,109.78 L520.82,110.74 L520.93,111.82 L521.05,113.02 L521.10,113.66 L521.16,114.34 L521.22,115.06 L521.27,115.80 L521.33,116.59 L521.38,117.40 L521.44,118.26 L521.50,119.15 L521.55,120.08 L521.61,121.05 L521.67,122.06 L521.72,123.11 L521.78,124.20 L521.84,125.33 L521.89,126.50 L521.95,127.71 L522.00,128.97 L522.06,130.27 L522.12,131.61 L522.17,133.00 L522.23,134.43 L522.29,135.91 L522.34,137.43 L522.40,139.00 L522.46,140.62 L522.51,142.28 L522.57,143.99 L522.62,145.74 L522.68,147.54 L522.74,149.39 L522.79,151.28 L522.85,153.22 L522.91,155.20 L522.96,157.23 L523.02,159.31 L523.08,161.43 L523.13,163.59 L523.19,165.80 L523.25,168.05 L523.30,170.34 L523.36,172.67 L523.41,175.05 L523.47,177.46 L523.53,179.91 L523.58,182.40 L523.64,184.92 L523.70,187.48 L523.75,190.07 L523.81,192.70 L523.87,195.35 L523.92,198.03 L523.98,200.74 L524.03,203.48 L524.09,206.24 L524.15,209.02 L524.20,211.83 L524.26,214.65 L524.32,217.49 L524.37,220.34 L524.43,223.21 L524.49,226.09 L524.54,228.97 L524.60,231.87 L524.65,234.77 L524.71,237.68 L524.77,240.59 L524.82,243.49 L524.88,246.40 L524.94,249.30 L524.99,252.20 L525.05,255.09 L525.11,257.97 L525.16,260.84 L525.22,263.70 L525.27,266.54 L525.33,269.37 L525.39,272.19 L525.44,274.98 L525.50,277.76 L525.56,280.51 L525.61,283.24 L525.67,285.95 L525.73,288.64 L525.78,291.30 L525.84,293.93 L525.89,296.53 L525.95,299.11 L526.01,301.66 L526.06,304.18 L526.12,306.67 L526.18,309.12 L526.23,311.55 L526.29,313.94 L526.35,316.30 L526.40,318.62 L526.46,320.92 L526.51,323.18 L526.57,325.40 L526.63,327.59 L526.68,329.75 L526.74,331.87 L526.80,333.95 L526.85,336.01 L526.91,338.02 L526.97,340.01 L527.02,341.95 L527.08,343.87 L527.14,345.75 L527.19,347.59 L527.25,349.40 L527.30,351.18 L527.36,352.93 L527.42,354.64 L527.47,356.31 L527.53,357.96 L527.59,359.57 L527.64,361.15 L527.70,362.70 L527.76,364.22 L527.81,365.71 L527.87,367.17 L527.92,368.59 L527.98,369.99 L528.04,371.36 L528.09,372.70 L528.15,374.01 L528.21,375.29 L528.26,376.54 L528.32,377.77 L528.38,378.97 L528.43,380.15 L528.49,381.30 L528.54,382.42 L528.60,383.52 L528.66,384.59 L528.71,385.64 L528.77,386.67 L528.83,387.67 L528.88,388.65 L528.94,389.61 L529.00,390.55 L529.05,391.46 L529.11,392.35 L529.16,393.23 L529.22,394.08 L529.28,394.91 L529.33,395.72 L529.39,396.52 L529.45,397.29 L529.50,398.05 L529.56,398.78 L529.62,399.50 L529.67,400.21 L529.73,400.89 L529.78,401.56 L529.84,402.22 L529.90,402.85 L529.95,403.47 L530.01,404.08 L530.12,405.25 L530.24,406.36 L530.35,407.41 L530.46,408.41 L530.57,409.36 L530.69,410.27 L530.80,411.12 L530.91,411.93 L531.02,412.70 L531.14,413.43 L531.25,414.12 L531.36,414.77 L531.48,415.39 L531.65,416.24 L531.81,417.03 L531.98,417.75 L532.15,418.40 L532.32,418.99 L532.55,419.70 L532.77,420.31 L533.05,420.96 L533.39,421.58 L533.79,422.11 L534.29,422.53 L534.91,422.72 L535.53,422.61 L536.10,422.31 L536.61,421.90 L537.06,421.44 L537.45,420.98 L537.85,420.47 L538.24,419.92 L538.58,419.42 L538.92,418.89 L539.26,418.34 L539.59,417.77 L539.93,417.19 L540.27,416.59 L540.61,415.97 L540.95,415.35 L541.29,414.71 L541.57,414.18 L541.85,413.64 L542.13,413.09 L542.41,412.54 L542.69,411.99 L542.98,411.43 L543.26,410.87 L543.54,410.31 L543.82,409.74 L544.10,409.17 L544.39,408.61 L544.67,408.04 L544.95,407.47 L545.23,406.90 L545.51,406.33 L545.80,405.76 L546.08,405.19 L546.36,404.62 L546.64,404.05 L546.92,403.48 L547.20,402.91 L547.49,402.34 L547.77,401.77 L548.05,401.20 L548.33,400.64 L548.61,400.07 L548.90,399.51 L549.18,398.95 L549.46,398.39 L549.74,397.83 L550.02,397.27 L550.31,396.71 L550.59,396.16 L550.87,395.61 L551.15,395.05 L551.43,394.50 L551.71,393.96 L552.00,393.41 L552.28,392.86 L552.56,392.32 L552.84,391.78 L553.12,391.24 L553.41,390.70 L553.69,390.16 L553.97,389.63 L554.25,389.10 L554.53,388.56 L554.87,387.93 L555.21,387.30 L555.55,386.67 L555.89,386.04 L556.22,385.41 L556.56,384.79 L556.90,384.17 L557.24,383.55 L557.58,382.94 L557.92,382.32 L558.25,381.71 L558.59,381.10 L558.93,380.50 L559.27,379.90 L559.61,379.29 L559.95,378.69 L560.28,378.10 L560.62,377.50 L560.96,376.91 L561.30,376.32 L561.64,375.73 L561.98,375.15 L562.31,374.56 L562.65,373.98 L562.99,373.40 L563.33,372.82 L563.67,372.25 L564.00,371.68 L564.34,371.10 L564.68,370.53 L565.02,369.97 L565.36,369.40 L565.70,368.84 L566.03,368.27 L566.37,367.71 L566.71,367.15 L567.05,366.60 L567.39,366.04 L567.73,365.49 L568.06,364.93 L568.40,364.38 L568.74,363.83 L569.08,363.29 L569.42,362.74 L569.75,362.20 L570.09,361.65 L570.43,361.11 L570.77,360.57 L571.11,360.03 L571.45,359.49 L571.78,358.96 L572.12,358.42 L572.46,357.89 L572.80,357.36 L573.14,356.82 L573.48,356.29 L573.81,355.77 L574.15,355.24 L574.49,354.71 L574.83,354.19 L575.17,353.66 L575.51,353.14 L575.84,352.62 L576.18,352.09 L576.52,351.57 L576.86,351.05 L577.20,350.54 L577.53,350.02 L577.87,349.50 L578.21,348.99 L578.55,348.47 L578.89,347.96 L579.23,347.44 L579.56,346.93 L579.90,346.42 L580.24,345.91 L580.58,345.40 L580.92,344.89 L581.26,344.38 L581.59,343.87 L581.93,343.36 L582.27,342.85 L582.61,342.35 L582.95,341.84 L583.29,341.33 L583.62,340.83 L583.96,340.32 L584.30,339.82 L584.64,339.32 L584.98,338.81 L585.31,338.31 L585.65,337.81 L585.99,337.30 L586.33,336.80 L586.67,336.30 L587.01,335.80 L587.34,335.30 L587.68,334.80 L588.02,334.30 L588.36,333.80 L588.70,333.30 L589.04,332.80 L589.37,332.30 L589.71,331.80 L590.05,331.30 L590.39,330.80 L590.73,330.30 L591.06,329.80 L591.40,329.30 L591.74,328.80 L592.08,328.30 L592.42,327.80 L592.76,327.30 L593.09,326.80 L593.43,326.30 L593.77,325.80 L594.11,325.30 L594.45,324.80 L594.79,324.30 L595.12,323.80 L595.46,323.30 L595.80,322.80 L596.14,322.30 L596.48,321.80 L596.82,321.29 L597.15,320.79 L597.49,320.29 L597.83,319.79 L598.17,319.28 L598.51,318.78 L598.84,318.28 L599.18,317.77 L599.52,317.27 L599.86,316.76 L600.20,316.26 L600.54,315.75 L600.87,315.24 L601.21,314.74 L601.55,314.23 L601.89,313.72 L602.23,313.21 L602.57,312.70 L602.90,312.19 L603.24,311.68 L603.58,311.16 L603.92,310.65 L604.26,310.14 L604.60,309.62 L604.93,309.11 L605.27,308.59 L605.61,308.08 L605.95,307.56 L606.29,307.04 L606.62,306.52 L606.96,306.00 L607.30,305.48 L607.64,304.95 L607.98,304.43 L608.32,303.91 L608.65,303.38 L608.99,302.85 L609.33,302.32 L609.67,301.80 L610.01,301.26 L610.35,300.73 L610.68,300.20 L611.02,299.67 L611.36,299.13 L611.70,298.59 L612.04,298.05 L612.37,297.52 L612.71,296.97 L613.05,296.43 L613.39,295.89 L613.73,295.34 L614.07,294.80 L614.40,294.25 L614.74,293.70 L615.08,293.14 L615.42,292.59 L615.76,292.04 L616.10,291.48 L616.43,290.92 L616.77,290.36 L617.11,289.80 L617.45,289.23 L617.79,288.67 L618.13,288.10 L618.46,287.53 L618.80,286.96 L619.14,286.38 L619.48,285.81 L619.82,285.23 L620.15,284.65 L620.49,284.07 L620.83,283.48 L621.17,282.89 L621.51,282.30 L621.85,281.71 L622.18,281.12 L622.52,280.52 L622.86,279.92 L623.20,279.32 L623.54,278.72 L623.88,278.11 L624.21,277.50 L624.55,276.89 L624.89,276.27 L625.23,275.65 L625.57,275.03 L625.90,274.41 L626.24,273.78 L626.58,273.15 L626.92,272.52 L627.20,271.99 L627.48,271.46 L627.77,270.92 L628.05,270.39 L628.33,269.85 L628.61,269.31 L628.89,268.76 L629.17,268.22 L629.46,267.67 L629.74,267.12 L630.02,266.57 L630.30,266.01 L630.58,265.45 L630.87,264.89 L631.15,264.32 L631.43,263.76 L631.71,263.19 L631.99,262.62 L632.28,262.04 L632.56,261.46 L632.84,260.88 L633.12,260.30 L633.40,259.71 L633.68,259.12 L633.97,258.53 L634.25,257.93 L634.53,257.33 L634.81,256.73 L635.09,256.12 L635.38,255.51 L635.66,254.90 L635.94,254.28 L636.22,253.66 L636.50,253.04 L636.79,252.41 L637.07,251.78 L637.35,251.14 L637.63,250.50 L637.91,249.86 L638.19,249.21 L638.48,248.56 L638.76,247.90 L639.04,247.25 L639.32,246.58 L639.60,245.91 L639.89,245.24 L640.17,244.56 L640.45,243.88 L640.73,243.20 L641.01,242.51 L641.24,241.95 L641.46,241.39 L641.69,240.83 L641.92,240.26 L642.14,239.69 L642.37,239.12 L642.59,238.55 L642.82,237.97 L643.04,237.39 L643.27,236.80 L643.49,236.21 L643.72,235.62 L643.95,235.02 L644.17,234.42 L644.40,233.82 L644.62,233.21 L644.85,232.60 L645.07,231.98 L645.30,231.36 L645.52,230.74 L645.75,230.11 L645.97,229.48 L646.20,228.85 L646.43,228.21 L646.65,227.56 L646.88,226.91 L647.10,226.26 L647.33,225.60 L647.55,224.94 L647.78,224.27 L648.00,223.60 L648.23,222.92 L648.46,222.24 L648.68,221.56 L648.91,220.86 L649.13,220.17 L649.36,219.47 L649.58,218.76 L649.81,218.05 L650.03,217.33 L650.26,216.61 L650.48,215.88 L650.71,215.14 L650.94,214.40 L651.16,213.65 L651.39,212.90 L651.61,212.14 L651.84,211.38 L652.01,210.80 L652.18,210.22 L652.35,209.63 L652.51,209.05 L652.68,208.45 L652.85,207.86 L653.02,207.26 L653.19,206.65 L653.36,206.05 L653.53,205.43 L653.70,204.82 L653.87,204.20 L654.04,203.57 L654.21,202.95 L654.37,202.31 L654.54,201.68 L654.71,201.04 L654.88,200.39 L655.05,199.74 L655.22,199.09 L655.39,198.43 L655.56,197.76 L655.73,197.10 L655.90,196.42 L656.07,195.74 L656.23,195.06 L656.40,194.37 L656.57,193.68 L656.74,192.98 L656.91,192.28 L657.08,191.57 L657.25,190.86 L657.42,190.14 L657.59,189.42 L657.76,188.69 L657.93,187.95 L658.10,187.21 L658.26,186.46 L658.43,185.71 L658.60,184.95 L658.77,184.19 L658.94,183.42 L659.11,182.64 L659.28,181.86 L659.45,181.07 L659.62,180.28 L659.79,179.48 L659.96,178.67 L660.12,177.86 L660.29,177.03 L660.46,176.21 L660.63,175.37 L660.80,174.53 L660.97,173.68 L661.14,172.83 L661.31,171.97 L661.48,171.10 L661.65,170.22 L661.82,169.34 L661.93,168.75 L662.04,168.15 L662.15,167.55 L662.27,166.95 L662.38,166.34 L662.49,165.73 L662.61,165.12 L662.72,164.50 L662.83,163.88 L662.94,163.26 L663.06,162.63 L663.17,162.00 L663.28,161.36 L663.39,160.73 L663.51,160.09 L663.62,159.44 L663.73,158.79 L663.85,158.14 L663.96,157.49 L664.07,156.83 L664.18,156.17 L664.30,155.50 L664.41,154.83 L664.52,154.16 L664.63,153.48 L664.75,152.80 L664.86,152.12 L664.97,151.43 L665.09,150.74 L665.20,150.05 L665.31,149.35 L665.42,148.65 L665.54,147.94 L665.65,147.24 L665.76,146.53 L665.88,145.81 L665.99,145.09 L666.10,144.37 L666.21,143.65 L666.33,142.92 L666.44,142.19 L666.55,141.46 L666.66,140.72 L666.78,139.98 L666.89,139.24 L667.00,138.50 L667.12,137.75 L667.23,137.00 L667.34,136.25 L667.45,135.50 L667.57,134.74 L667.68,133.99 L667.79,133.23 L667.90,132.47 L668.02,131.71 L668.13,130.95 L668.24,130.18 L668.36,129.42 L668.47,128.66 L668.58,127.89 L668.69,127.13 L668.81,126.37 L668.92,125.61 L669.03,124.85 L669.14,124.09 L669.26,123.33 L669.37,122.58 L669.48,121.83 L669.60,121.09 L669.71,120.35 L669.82,119.61 L669.93,118.88 L670.05,118.16 L670.16,117.44 L670.27,116.73 L670.39,116.03 L670.50,115.34 L670.61,114.66 L670.72,113.99 L670.84,113.34 L670.95,112.70 L671.06,112.07 L671.17,111.46 L671.29,110.87 L671.46,110.02 L671.63,109.22 L671.79,108.48 L671.96,107.80 L672.13,107.18 L672.36,106.49 L672.64,105.84 L673.09,105.44 L673.54,106.01 L673.77,106.74 L673.94,107.52 L674.05,108.15 L674.16,108.88 L674.28,109.72 L674.39,110.67 L674.50,111.74 L674.61,112.93 L674.67,113.57 L674.73,114.25 L674.78,114.96 L674.84,115.70 L674.90,116.48 L674.95,117.29 L675.01,118.14 L675.06,119.03 L675.12,119.95 L675.18,120.92 L675.23,121.92 L675.29,122.96 L675.35,124.04 L675.40,125.17 L675.46,126.33 L675.52,127.54 L675.57,128.79 L675.63,130.09 L675.68,131.42 L675.74,132.81 L675.80,134.23 L675.85,135.70 L675.91,137.22 L675.97,138.78 L676.02,140.39 L676.08,142.05 L676.14,143.75 L676.19,145.50 L676.25,147.29 L676.30,149.13 L676.36,151.02 L676.42,152.95 L676.47,154.93 L676.53,156.95 L676.59,159.02 L676.64,161.13 L676.70,163.29 L676.76,165.49 L676.81,167.74 L676.87,170.02 L676.92,172.35 L676.98,174.72 L677.04,177.13 L677.09,179.57 L677.15,182.05 L677.21,184.57 L677.26,187.13 L677.32,189.71 L677.38,192.33 L677.43,194.98 L677.49,197.66 L677.54,200.37 L677.60,203.10 L677.66,205.86 L677.71,208.64 L677.77,211.44 L677.83,214.26 L677.88,217.10 L677.94,219.95 L678.00,222.81 L678.05,225.69 L678.11,228.58 L678.17,231.47 L678.22,234.37 L678.28,237.28 L678.33,240.19 L678.39,243.09 L678.45,246.00 L678.50,248.90 L678.56,251.80 L678.62,254.69 L678.67,257.57 L678.73,260.45 L678.79,263.31 L678.84,266.15 L678.90,268.99 L678.95,271.80 L679.01,274.60 L679.07,277.38 L679.12,280.13 L679.18,282.87 L679.24,285.58 L679.29,288.27 L679.35,290.93 L679.41,293.57 L679.46,296.18 L679.52,298.76 L679.57,301.31 L679.63,303.83 L679.69,306.33 L679.74,308.79 L679.80,311.21 L679.86,313.61 L679.91,315.98 L679.97,318.31 L680.03,320.60 L680.08,322.87 L680.14,325.10 L680.19,327.29 L680.25,329.45 L680.31,331.58 L680.36,333.67 L680.42,335.73 L680.48,337.75 L680.53,339.74 L680.59,341.69 L680.65,343.61 L680.70,345.49 L680.76,347.34 L680.81,349.16 L680.87,350.94 L680.93,352.69 L680.98,354.40 L681.04,356.09 L681.10,357.74 L681.15,359.35 L681.21,360.94 L681.27,362.49 L681.32,364.01 L681.38,365.51 L681.43,366.97 L681.49,368.40 L681.55,369.80 L681.60,371.17 L681.66,372.51 L681.72,373.83 L681.77,375.11 L681.83,376.37 L681.89,377.60 L681.94,378.81 L682.00,379.99 L682.05,381.14 L682.11,382.27 L682.17,383.37 L682.22,384.45 L682.28,385.50 L682.34,386.53 L682.39,387.54 L682.45,388.52 L682.51,389.48 L682.56,390.42 L682.62,391.34 L682.68,392.23 L682.73,393.11 L682.79,393.96 L682.84,394.80 L682.90,395.61 L682.96,396.41 L683.01,397.18 L683.07,397.94 L683.13,398.68 L683.18,399.41 L683.24,400.11 L683.30,400.80 L683.35,401.47 L683.41,402.13 L683.46,402.77 L683.52,403.39 L683.58,404.00 L683.69,405.17 L683.80,406.28 L683.92,407.34 L684.03,408.35 L684.14,409.30 L684.25,410.21 L684.37,411.07 L684.48,411.88 L684.59,412.65 L684.70,413.38 L684.82,414.07 L684.93,414.73 L685.04,415.35 L685.21,416.21 L685.38,417.00 L685.55,417.72 L685.72,418.37 L685.89,418.97 L686.11,419.68 L686.34,420.29 L686.62,420.94 L686.90,421.47 L687.30,422.03 L687.75,422.46 L688.31,422.70 L688.93,422.67 L689.50,422.43 L690.00,422.06 L690.45,421.63 L690.91,421.13 L691.30,420.63 L691.70,420.09 L692.09,419.51 L692.43,418.99 L692.77,418.44 L693.10,417.88 L693.44,417.30 L693.78,416.70 L694.12,416.09 L694.46,415.47 L694.80,414.83 L695.08,414.30 L695.36,413.76 L695.64,413.21 L695.92,412.66 L696.21,412.11 L696.49,411.55 L696.77,411.00 L697.05,410.43 L697.33,409.87 L697.61,409.30 L697.90,408.74 L698.18,408.17 L698.46,407.60 L698.74,407.03 L699.02,406.46 L699.31,405.89 L699.59,405.32 L699.87,404.75 L700.15,404.17 L700.43,403.61 L700.72,403.04 L701.00,402.47 L701.28,401.90 L701.56,401.33 L701.84,400.77 L702.12,400.20 L702.41,399.64 L702.69,399.08 L702.97,398.52 L703.25,397.96 L703.53,397.40 L703.82,396.84 L704.10,396.29 L704.38,395.73 L704.66,395.18 L704.94,394.63 L705.23,394.08 L705.51,393.53 L705.79,392.99 L706.07,392.44 L706.35,391.90 L706.63,391.36 L706.92,390.82 L707.20,390.29 L707.48,389.75 L707.76,389.22 L708.04,388.68 L708.33,388.15 L708.66,387.52 L709.00,386.89 L709.34,386.26 L709.68,385.64 L710.02,385.01 L710.36,384.39 L710.69,383.77 L711.03,383.16 L711.37,382.54 L711.71,381.93 L712.05,381.32 L712.39,380.71 L712.72,380.11 L713.06,379.51 L713.40,378.91 L713.74,378.31 L714.08,377.72 L714.41,377.12 L714.75,376.53 L715.09,375.94 L715.43,375.36 L715.77,374.77 L716.11,374.19 L716.44,373.61 L716.78,373.03 L717.12,372.45 L717.46,371.88 L717.80,371.31 L718.14,370.74 L718.47,370.17 L718.81,369.60 L719.15,369.04 L719.49,368.47 L719.83,367.91 L720.16,367.35 L720.50,366.79 L720.84,366.24 L721.18,365.68 L721.52,365.13 L721.86,364.58 L722.19,364.03 L722.53,363.48 L722.87,362.93 L723.21,362.39 L723.55,361.85 L723.89,361.30 L724.22,360.76 L724.56,360.22 L724.90,359.69 L725.24,359.15 L725.58,358.61 L725.92,358.08 L726.25,357.55 L726.59,357.01 L726.93,356.48 L727.27,355.95 L727.61,355.43 L727.94,354.90 L728.28,354.37 L728.62,353.85 L728.96,353.32 L729.30,352.80 L729.64,352.28 L729.97,351.76 L730.31,351.24 L730.65,350.72 L730.99,350.20 L731.33,349.68 L731.67,349.17 L732.00,348.65 L732.34,348.14 L732.68,347.62 L733.02,347.11 L733.36,346.60 L733.69,346.09 L734.03,345.58 L734.37,345.07 L734.71,344.56 L735.05,344.05 L735.39,343.54 L735.72,343.03" stroke="#0000ff" stroke-opacity="0.87" stroke-width="1.06"/>
<path d="M74.01,210.05 L74.07,212.93 L74.12,215.82 L74.18,218.74 L74.23,221.67 L74.29,224.60 L74.34,227.55 L74.40,230.51 L74.46,233.47 L74.51,236.43 L74.57,239.40 L74.62,242.37 L74.68,245.33 L74.73,248.29 L74.79,251.24 L74.84,254.19 L74.90,257.13 L74.96,260.05 L75.01,262.96 L75.07,265.86 L75.12,268.74 L75.18,271.60 L75.23,274.45 L75.29,277.27 L75.34,280.07 L75.40,282.85 L75.46,285.60 L75.51,288.33 L75.57,291.03 L75.62,293.70 L75.68,296.35 L75.73,298.96 L75.79,301.55 L75.84,304.10 L75.90,306.62 L75.96,309.11 L76.01,311.56 L76.07,313.99 L76.12,316.37 L76.18,318.73 L76.23,321.05 L76.29,323.33 L76.34,325.58 L76.40,327.79 L76.46,329.97 L76.51,332.11 L76.57,334.22 L76.62,336.29 L76.68,338.32 L76.73,340.32 L76.79,342.29 L76.84,344.22 L76.90,346.11 L76.96,347.97 L77.01,349.79 L77.07,351.58 L77.12,353.34 L77.18,355.06 L77.23,356.75 L77.29,358.41 L77.34,360.03 L77.40,361.62 L77.46,363.18 L77.51,364.70 L77.57,366.20 L77.62,367.66 L77.68,369.09 L77.73,370.50 L77.79,371.87 L77.84,373.21 L77.90,374.53 L77.95,375.82 L78.01,377.08 L78.07,378.31 L78.12,379.51 L78.18,380.69 L78.23,381.84 L78.29,382.97 L78.34,384.07 L78.40,385.15 L78.45,386.20 L78.51,387.23 L78.57,388.24 L78.62,389.22 L78.68,390.18 L78.73,391.12 L78.79,392.04 L78.84,392.93 L78.90,393.81 L78.95,394.66 L79.01,395.49 L79.07,396.31 L79.12,397.10 L79.18,397.88 L79.23,398.64 L79.29,399.38 L79.34,400.10 L79.40,400.81 L79.45,401.49 L79.51,402.16 L79.57,402.82 L79.62,403.46 L79.68,404.08 L79.73,404.69 L79.84,405.86 L79.95,406.98 L80.07,408.03 L80.18,409.04 L80.29,410.00 L80.40,410.90 L80.51,411.77 L80.62,412.58 L80.73,413.36 L80.84,414.09 L80.95,414.78 L81.07,415.44 L81.18,416.06 L81.34,416.93 L81.51,417.72 L81.68,418.45 L81.84,419.12 L82.01,419.72 L82.23,420.44 L82.45,421.07 L82.73,421.73 L83.01,422.28 L83.34,422.80 L83.79,423.28 L84.34,423.59 L84.95,423.64 L85.57,423.43 L86.12,423.06 L86.62,422.60 L87.07,422.12 L87.45,421.64 L87.84,421.12 L88.23,420.56 L88.57,420.06 L88.90,419.53 L89.23,418.99 L89.57,418.43 L89.90,417.85 L90.23,417.26 L90.56,416.66 L90.90,416.05 L91.23,415.43 L91.56,414.80 L91.90,414.17 L92.18,413.64 L92.45,413.10 L92.73,412.56 L93.01,412.02 L93.29,411.48 L93.56,410.93 L93.84,410.38 L94.12,409.83 L94.40,409.28 L94.68,408.73 L94.95,408.18 L95.23,407.63 L95.51,407.07 L95.79,406.52 L96.06,405.97 L96.34,405.42 L96.62,404.86 L96.90,404.31 L97.18,403.76 L97.45,403.21 L97.73,402.66 L98.01,402.12 L98.29,401.57 L98.56,401.02 L98.84,400.48 L99.12,399.94 L99.40,399.39 L99.68,398.85 L99.95,398.31 L100.23,397.78 L100.51,397.24 L100.79,396.70 L101.06,396.17 L101.34,395.64 L101.68,395.00 L102.01,394.37 L102.34,393.74 L102.67,393.11 L103.01,392.48 L103.34,391.86 L103.67,391.23 L104.01,390.61 L104.34,390.00 L104.67,389.38 L105.01,388.77 L105.34,388.16 L105.67,387.55 L106.01,386.95 L106.34,386.34 L106.67,385.74 L107.01,385.14 L107.34,384.55 L107.67,383.95 L108.01,383.36 L108.34,382.77 L108.67,382.18 L109.01,381.60 L109.34,381.02 L109.67,380.43 L110.01,379.86 L110.34,379.28 L110.67,378.71 L111.01,378.13 L111.34,377.56 L111.67,376.99 L112.01,376.43 L112.34,375.86 L112.67,375.30 L113.01,374.74 L113.34,374.18 L113.67,373.62 L114.01,373.07 L114.34,372.52 L114.67,371.96 L115.01,371.41 L115.34,370.87 L115.67,370.32 L116.01,369.78 L116.34,369.23 L116.67,368.69 L117.01,368.15 L117.34,367.61 L117.67,367.08 L118.01,366.54 L118.34,366.01 L118.67,365.48 L119.01,364.94 L119.34,364.42 L119.67,363.89 L120.01,363.36 L120.34,362.84 L120.67,362.31 L121.01,361.79 L121.34,361.27 L121.67,360.75 L122.01,360.23 L122.34,359.71 L122.67,359.19 L123.01,358.68 L123.34,358.16 L123.67,357.65 L124.01,357.14 L124.34,356.63 L124.67,356.12 L125.01,355.61 L125.34,355.10 L125.67,354.59 L126.01,354.08 L126.34,353.58 L126.67,353.07 L127.01,352.57 L127.34,352.07 L127.67,351.57 L128.01,351.06 L128.34,350.56 L128.67,350.06 L129.01,349.56 L129.39,348.98 L129.78,348.40 L130.17,347.82 L130.56,347.25 L130.95,346.67 L131.34,346.09 L131.73,345.51 L132.12,344.94 L132.51,344.36 L132.89,343.79 L133.28,343.22 L133.67,342.64 L134.06,342.07 L134.45,341.50 L134.84,340.93 L135.23,340.36 L135.62,339.79 L136.01,339.22 L136.39,338.65 L136.78,338.08 L137.17,337.51 L137.56,336.94 L137.95,336.37 L138.34,335.81 L138.73,335.24 L139.12,334.67 L139.50,334.10 L139.89,333.53 L140.28,332.97 L140.67,332.40 L141.06,331.83 L141.45,331.27 L141.84,330.70 L142.23,330.13 L142.62,329.56 L143.00,329.00 L143.39,328.43 L143.78,327.86 L144.17,327.29 L144.56,326.72 L144.95,326.16 L145.34,325.59 L145.73,325.02 L146.12,324.45 L146.50,323.88 L146.89,323.31 L147.28,322.74 L147.67,322.16 L148.06,321.59 L148.45,321.02 L148.84,320.45 L149.23,319.87 L149.62,319.30 L150.00,318.72 L150.39,318.15 L150.78,317.57 L151.17,316.99 L151.56,316.41 L151.95,315.83 L152.34,315.25 L152.73,314.67 L153.11,314.09 L153.45,313.59 L153.78,313.09 L154.11,312.59 L154.45,312.09 L154.78,311.59 L155.11,311.08 L155.45,310.58 L155.78,310.07 L156.11,309.57 L156.45,309.06 L156.78,308.55 L157.11,308.04 L157.45,307.53 L157.78,307.02 L158.11,306.51 L158.45,305.99 L158.78,305.48 L159.11,304.96 L159.45,304.45 L159.78,303.93 L160.11,303.41 L160.45,302.89 L160.78,302.37 L161.11,301.85 L161.45,301.32 L161.78,300.80 L162.11,300.27 L162.45,299.74 L162.78,299.21 L163.11,298.68 L163.45,298.15 L163.78,297.61 L164.11,297.08 L164.45,296.54 L164.78,296.00 L165.11,295.46 L165.45,294.92 L165.78,294.38 L166.11,293.83 L166.45,293.28 L166.78,292.74 L167.11,292.18 L167.45,291.63 L167.78,291.08 L168.11,290.52 L168.45,289.96 L168.78,289.40 L169.11,288.84 L169.45,288.28 L169.78,287.71 L170.11,287.14 L170.45,286.57 L170.78,286.00 L171.11,285.42 L171.45,284.84 L171.78,284.26 L172.11,283.68 L172.45,283.10 L172.78,282.51 L173.11,281.92 L173.45,281.33 L173.78,280.73 L174.11,280.13 L174.45,279.53 L174.78,278.93 L175.11,278.32 L175.45,277.72 L175.78,277.10 L176.11,276.49 L176.45,275.87 L176.78,275.25 L177.11,274.63 L177.45,274.00 L177.78,273.37 L178.11,272.74 L178.45,272.10 L178.72,271.57 L179.00,271.03 L179.28,270.50 L179.56,269.96 L179.83,269.41 L180.11,268.87 L180.39,268.32 L180.67,267.77 L180.95,267.22 L181.22,266.66 L181.50,266.10 L181.78,265.54 L182.06,264.98 L182.33,264.41 L182.61,263.84 L182.89,263.27 L183.17,262.69 L183.45,262.11 L183.72,261.53 L184.00,260.95 L184.28,260.36 L184.56,259.77 L184.83,259.17 L185.11,258.57 L185.39,257.97 L185.67,257.37 L185.95,256.76 L186.22,256.15 L186.50,255.53 L186.78,254.91 L187.06,254.29 L187.33,253.66 L187.61,253.03 L187.89,252.40 L188.17,251.76 L188.44,251.12 L188.72,250.47 L189.00,249.82 L189.28,249.17 L189.56,248.51 L189.83,247.84 L190.11,247.17 L190.39,246.50 L190.67,245.83 L190.94,245.14 L191.22,244.46 L191.50,243.77 L191.78,243.07 L192.00,242.51 L192.22,241.94 L192.44,241.38 L192.67,240.81 L192.89,240.23 L193.11,239.66 L193.33,239.07 L193.56,238.49 L193.78,237.90 L194.00,237.31 L194.22,236.72 L194.44,236.12 L194.67,235.51 L194.89,234.91 L195.11,234.30 L195.33,233.68 L195.56,233.06 L195.78,232.44 L196.00,231.81 L196.22,231.18 L196.44,230.55 L196.67,229.91 L196.89,229.26 L197.11,228.61 L197.33,227.96 L197.56,227.30 L197.78,226.64 L198.00,225.97 L198.22,225.30 L198.44,224.62 L198.67,223.94 L198.89,223.26 L199.11,222.56 L199.33,221.87 L199.55,221.16 L199.78,220.46 L200.00,219.74 L200.22,219.02 L200.44,218.30 L200.67,217.57 L200.89,216.83 L201.11,216.09 L201.33,215.34 L201.55,214.59 L201.78,213.82 L202.00,213.06 L202.17,212.48 L202.33,211.89 L202.50,211.31 L202.67,210.72 L202.83,210.12 L203.00,209.52 L203.17,208.92 L203.33,208.31 L203.50,207.70 L203.67,207.09 L203.83,206.47 L204.00,205.85 L204.17,205.22 L204.33,204.59 L204.50,203.95 L204.67,203.31 L204.83,202.67 L205.00,202.02 L205.17,201.37 L205.33,200.71 L205.50,200.05 L205.67,199.38 L205.83,198.71 L206.00,198.03 L206.17,197.34 L206.33,196.66 L206.50,195.96 L206.67,195.27 L206.83,194.56 L207.00,193.86 L207.17,193.14 L207.33,192.42 L207.50,191.70 L207.67,190.97 L207.83,190.23 L208.00,189.49 L208.17,188.74 L208.33,187.99 L208.50,187.23 L208.67,186.46 L208.83,185.69 L209.00,184.91 L209.17,184.13 L209.33,183.34 L209.50,182.54 L209.67,181.74 L209.83,180.93 L210.00,180.11 L210.17,179.29 L210.33,178.46 L210.50,177.62 L210.67,176.77 L210.83,175.92 L211.00,175.06 L211.16,174.20 L211.33,173.32 L211.50,172.44 L211.61,171.85 L211.72,171.25 L211.83,170.66 L211.94,170.05 L212.05,169.45 L212.16,168.84 L212.28,168.23 L212.39,167.61 L212.50,166.99 L212.61,166.37 L212.72,165.74 L212.83,165.11 L212.94,164.47 L213.05,163.84 L213.16,163.19 L213.28,162.55 L213.39,161.90 L213.50,161.25 L213.61,160.59 L213.72,159.93 L213.83,159.27 L213.94,158.60 L214.05,157.93 L214.16,157.25 L214.28,156.57 L214.39,155.89 L214.50,155.20 L214.61,154.51 L214.72,153.81 L214.83,153.12 L214.94,152.41 L215.05,151.71 L215.16,151.00 L215.28,150.28 L215.39,149.56 L215.50,148.84 L215.61,148.12 L215.72,147.39 L215.83,146.66 L215.94,145.92 L216.05,145.18 L216.16,144.43 L216.28,143.69 L216.39,142.94 L216.50,142.18 L216.61,141.42 L216.72,140.66 L216.83,139.90 L216.94,139.13 L217.05,138.36 L217.16,137.59 L217.28,136.81 L217.39,136.04 L217.50,135.25 L217.61,134.47 L217.72,133.69 L217.83,132.90 L217.94,132.11 L218.05,131.32 L218.16,130.52 L218.28,129.73 L218.39,128.94 L218.50,128.14 L218.61,127.35 L218.72,126.55 L218.83,125.76 L218.94,124.96 L219.05,124.17 L219.16,123.38 L219.28,122.59 L219.39,121.80 L219.50,121.01 L219.61,120.23 L219.72,119.46 L219.83,118.68 L219.94,117.92 L220.05,117.16 L220.16,116.40 L220.28,115.66 L220.39,114.92 L220.50,114.19 L220.61,113.48 L220.72,112.77 L220.83,112.08 L220.94,111.40 L221.05,110.74 L221.16,110.10 L221.28,109.47 L221.39,108.86 L221.55,107.99 L221.72,107.18 L221.89,106.43 L222.05,105.75 L222.22,105.14 L222.44,104.47 L222.72,103.89 L223.33,103.85 L223.61,104.54 L223.77,105.22 L223.94,106.10 L224.05,106.83 L224.16,107.66 L224.27,108.60 L224.39,109.67 L224.50,110.87 L224.55,111.52 L224.61,112.20 L224.66,112.92 L224.72,113.67 L224.77,114.46 L224.83,115.29 L224.89,116.16 L224.94,117.06 L225.00,118.01 L225.05,118.99 L225.11,120.02 L225.16,121.09 L225.22,122.20 L225.27,123.35 L225.33,124.55 L225.39,125.79 L225.44,127.07 L225.50,128.41 L225.55,129.79 L225.61,131.21 L225.66,132.68 L225.72,134.20 L225.77,135.77 L225.83,137.38 L225.89,139.04 L225.94,140.75 L226.00,142.51 L226.05,144.32 L226.11,146.17 L226.16,148.07 L226.22,150.03 L226.27,152.02 L226.33,154.07 L226.39,156.17 L226.44,158.31 L226.50,160.49 L226.55,162.72 L226.61,165.00 L226.66,167.32 L226.72,169.69 L226.77,172.09 L226.83,174.54 L226.89,177.03 L226.94,179.56 L227.00,182.12 L227.05,184.72 L227.11,187.36 L227.16,190.03 L227.22,192.73 L227.27,195.46 L227.33,198.22 L227.39,201.01 L227.44,203.82 L227.50,206.66 L227.55,209.51 L227.61,212.39 L227.66,215.29 L227.72,218.20 L227.77,221.12 L227.83,224.06 L227.89,227.01 L227.94,229.96 L228.00,232.92 L228.05,235.89 L228.11,238.85 L228.16,241.82 L228.22,244.78 L228.27,247.74 L228.33,250.70 L228.39,253.65 L228.44,256.58 L228.50,259.51 L228.55,262.43 L228.61,265.33 L228.66,268.21 L228.72,271.08 L228.77,273.92 L228.83,276.75 L228.89,279.55 L228.94,282.34 L229.00,285.09 L229.05,287.83 L229.11,290.53 L229.16,293.21 L229.22,295.86 L229.27,298.48 L229.33,301.07 L229.39,303.63 L229.44,306.16 L229.50,308.65 L229.55,311.11 L229.61,313.54 L229.66,315.93 L229.72,318.29 L229.77,320.62 L229.83,322.91 L229.89,325.16 L229.94,327.38 L230.00,329.57 L230.05,331.72 L230.11,333.83 L230.16,335.91 L230.22,337.95 L230.27,339.96 L230.33,341.93 L230.39,343.86 L230.44,345.76 L230.50,347.63 L230.55,349.46 L230.61,351.26 L230.66,353.02 L230.72,354.75 L230.77,356.44 L230.83,358.10 L230.89,359.73 L230.94,361.33 L231.00,362.89 L231.05,364.42 L231.11,365.92 L231.16,367.39 L231.22,368.83 L231.27,370.24 L231.33,371.62 L231.39,372.97 L231.44,374.29 L231.50,375.58 L231.55,376.84 L231.61,378.08 L231.66,379.29 L231.72,380.48 L231.77,381.63 L231.83,382.76 L231.89,383.87 L231.94,384.95 L232.00,386.01 L232.05,387.04 L232.11,388.05 L232.16,389.04 L232.22,390.01 L232.27,390.95 L232.33,391.87 L232.39,392.77 L232.44,393.65 L232.50,394.50 L232.55,395.34 L232.61,396.16 L232.66,396.96 L232.72,397.74 L232.77,398.50 L232.83,399.24 L232.89,399.97 L232.94,400.68 L233.00,401.37 L233.05,402.04 L233.11,402.70 L233.16,403.34 L233.22,403.97 L233.27,404.58 L233.39,405.76 L233.50,406.88 L233.61,407.94 L233.72,408.95 L233.83,409.91 L233.94,410.82 L234.05,411.69 L234.16,412.51 L234.27,413.29 L234.39,414.02 L234.50,414.72 L234.61,415.38 L234.72,416.01 L234.83,416.60 L235.00,417.42 L235.16,418.17 L235.33,418.86 L235.50,419.49 L235.72,420.24 L235.94,420.89 L236.16,421.46 L236.44,422.05 L236.77,422.63 L237.16,423.11 L237.66,423.50 L238.27,423.65 L238.88,423.53 L239.44,423.23 L239.94,422.82 L240.38,422.38 L240.83,421.86 L241.22,421.36 L241.61,420.82 L242.00,420.24 L242.33,419.73 L242.66,419.19 L243.00,418.63 L243.33,418.06 L243.66,417.48 L244.00,416.88 L244.33,416.27 L244.66,415.66 L245.00,415.03 L245.33,414.40 L245.66,413.76 L245.94,413.23 L246.22,412.69 L246.50,412.15 L246.77,411.60 L247.05,411.06 L247.33,410.51 L247.61,409.96 L247.88,409.41 L248.16,408.86 L248.44,408.31 L248.72,407.76 L248.99,407.20 L249.27,406.65 L249.55,406.10 L249.83,405.55 L250.11,405.00 L250.38,404.44 L250.66,403.89 L250.94,403.34 L251.22,402.79 L251.49,402.25 L251.77,401.70 L252.05,401.15 L252.33,400.61 L252.61,400.06 L252.88,399.52 L253.16,398.98 L253.44,398.44 L253.72,397.90 L253.99,397.37 L254.27,396.83 L254.55,396.30 L254.83,395.77 L255.16,395.13 L255.49,394.49 L255.83,393.86 L256.16,393.23 L256.49,392.61 L256.83,391.98 L257.16,391.36 L257.49,390.74 L257.83,390.12 L258.16,389.50 L258.49,388.89 L258.83,388.28 L259.16,387.67 L259.49,387.07 L259.83,386.46 L260.16,385.86 L260.49,385.26 L260.83,384.66 L261.16,384.07 L261.49,383.48 L261.83,382.89 L262.16,382.30 L262.49,381.71 L262.83,381.13 L263.16,380.55 L263.49,379.97 L263.83,379.39 L264.16,378.82 L264.49,378.25 L264.83,377.67 L265.16,377.11 L265.49,376.54 L265.83,375.97 L266.16,375.41 L266.49,374.85 L266.83,374.29 L267.16,373.73 L267.49,373.18 L267.83,372.63 L268.16,372.07 L268.49,371.52 L268.83,370.97 L269.16,370.43 L269.49,369.88 L269.83,369.34 L270.16,368.80 L270.49,368.26 L270.83,367.72 L271.16,367.18 L271.49,366.65 L271.83,366.11 L272.16,365.58 L272.49,365.05 L272.83,364.52 L273.16,363.99 L273.49,363.46 L273.83,362.94 L274.16,362.41 L274.49,361.89 L274.83,361.37 L275.16,360.85 L275.49,360.33 L275.83,359.81 L276.16,359.29 L276.49,358.78 L276.83,358.26 L277.16,357.75 L277.49,357.24 L277.83,356.73 L278.16,356.22 L278.49,355.71 L278.83,355.20 L279.16,354.69 L279.49,354.18 L279.83,353.68 L280.16,353.17 L280.49,352.67 L280.83,352.17 L281.16,351.66 L281.49,351.16 L281.83,350.66 L282.16,350.16 L282.49,349.66 L282.88,349.08 L283.27,348.50 L283.66,347.92 L284.05,347.34 L284.44,346.77 L284.82,346.19 L285.21,345.61 L285.60,345.04 L285.99,344.46 L286.38,343.89 L286.77,343.31 L287.16,342.74 L287.55,342.17 L287.94,341.60 L288.32,341.02 L288.71,340.45 L289.10,339.88 L289.49,339.31 L289.88,338.74 L290.27,338.18 L290.66,337.61 L291.05,337.04 L291.44,336.47 L291.82,335.90 L292.21,335.33 L292.60,334.77 L292.99,334.20 L293.38,333.63 L293.77,333.06 L294.16,332.50 L294.55,331.93 L294.94,331.36 L295.32,330.79 L295.71,330.23 L296.10,329.66 L296.49,329.09 L296.88,328.52 L297.27,327.96 L297.66,327.39 L298.05,326.82 L298.43,326.25 L298.82,325.68 L299.21,325.11 L299.60,324.54 L299.99,323.97 L300.38,323.40 L300.77,322.83 L301.16,322.26 L301.55,321.69 L301.93,321.12 L302.32,320.54 L302.71,319.97 L303.10,319.39 L303.49,318.82 L303.88,318.24 L304.27,317.67 L304.66,317.09 L305.05,316.51 L305.43,315.93 L305.82,315.35 L306.21,314.77 L306.60,314.19 L306.93,313.69 L307.27,313.19 L307.60,312.69 L307.93,312.19 L308.27,311.68 L308.60,311.18 L308.93,310.68 L309.27,310.17 L309.60,309.67 L309.93,309.16 L310.27,308.65 L310.60,308.14 L310.93,307.63 L311.27,307.12 L311.60,306.61 L311.93,306.10 L312.27,305.58 L312.60,305.07 L312.93,304.55 L313.27,304.03 L313.60,303.51 L313.93,302.99 L314.27,302.47 L314.60,301.95 L314.93,301.43 L315.27,300.90 L315.60,300.37 L315.93,299.85 L316.27,299.32 L316.60,298.79 L316.93,298.25 L317.27,297.72 L317.60,297.18 L317.93,296.65 L318.27,296.11 L318.60,295.57 L318.93,295.03 L319.27,294.48 L319.60,293.94 L319.93,293.39 L320.27,292.84 L320.60,292.29 L320.93,291.74 L321.27,291.19 L321.60,290.63 L321.93,290.07 L322.27,289.51 L322.60,288.95 L322.93,288.39 L323.27,287.82 L323.60,287.25 L323.93,286.68 L324.27,286.11 L324.60,285.53 L324.93,284.96 L325.27,284.38 L325.60,283.80 L325.93,283.21 L326.27,282.62 L326.60,282.04 L326.93,281.44 L327.27,280.85 L327.60,280.25 L327.93,279.65 L328.27,279.05 L328.60,278.44 L328.93,277.84 L329.27,277.23 L329.60,276.61 L329.93,275.99 L330.27,275.37 L330.60,274.75 L330.93,274.13 L331.27,273.50 L331.60,272.86 L331.93,272.23 L332.21,271.70 L332.49,271.16 L332.76,270.62 L333.04,270.08 L333.32,269.54 L333.60,269.00 L333.88,268.45 L334.15,267.90 L334.43,267.35 L334.71,266.79 L334.99,266.23 L335.26,265.67 L335.54,265.11 L335.82,264.54 L336.10,263.97 L336.38,263.40 L336.65,262.83 L336.93,262.25 L337.21,261.67 L337.49,261.08 L337.76,260.50 L338.04,259.91 L338.32,259.31 L338.60,258.72 L338.88,258.11 L339.15,257.51 L339.43,256.90 L339.71,256.29 L339.99,255.68 L340.26,255.06 L340.54,254.44 L340.82,253.81 L341.10,253.18 L341.38,252.55 L341.65,251.91 L341.93,251.27 L342.21,250.62 L342.49,249.97 L342.76,249.32 L343.04,248.66 L343.32,248.00 L343.60,247.33 L343.88,246.66 L344.15,245.99 L344.43,245.31 L344.71,244.62 L344.99,243.93 L345.26,243.23 L345.49,242.67 L345.71,242.11 L345.93,241.55 L346.15,240.98 L346.37,240.40 L346.60,239.83 L346.82,239.25 L347.04,238.66 L347.26,238.08 L347.49,237.49 L347.71,236.89 L347.93,236.29 L348.15,235.69 L348.37,235.09 L348.60,234.48 L348.82,233.86 L349.04,233.25 L349.26,232.62 L349.49,232.00 L349.71,231.37 L349.93,230.74 L350.15,230.10 L350.37,229.45 L350.60,228.81 L350.82,228.15 L351.04,227.50 L351.26,226.84 L351.49,226.17 L351.71,225.50 L351.93,224.83 L352.15,224.15 L352.37,223.46 L352.60,222.77 L352.82,222.07 L353.04,221.37 L353.26,220.67 L353.49,219.95 L353.71,219.24 L353.93,218.51 L354.15,217.78 L354.37,217.05 L354.60,216.31 L354.82,215.56 L355.04,214.81 L355.26,214.05 L355.49,213.29 L355.65,212.71 L355.82,212.13 L355.99,211.54 L356.15,210.95 L356.32,210.36 L356.48,209.76 L356.65,209.16 L356.82,208.55 L356.98,207.95 L357.15,207.33 L357.32,206.72 L357.48,206.09 L357.65,205.47 L357.82,204.84 L357.98,204.21 L358.15,203.57 L358.32,202.92 L358.48,202.28 L358.65,201.63 L358.82,200.97 L358.98,200.31 L359.15,199.64 L359.32,198.97 L359.48,198.30 L359.65,197.62 L359.82,196.93 L359.98,196.24 L360.15,195.54 L360.32,194.84 L360.48,194.14 L360.65,193.42 L360.82,192.71 L360.98,191.98 L361.15,191.26 L361.32,190.52 L361.48,189.78 L361.65,189.04 L361.82,188.29 L361.98,187.53 L362.15,186.77 L362.32,186.00 L362.48,185.22 L362.65,184.44 L362.82,183.65 L362.98,182.86 L363.15,182.06 L363.32,181.25 L363.48,180.43 L363.65,179.61 L363.82,178.79 L363.98,177.95 L364.15,177.11 L364.32,176.26 L364.48,175.40 L364.65,174.54 L364.82,173.67 L364.98,172.79 L365.10,172.20 L365.21,171.61 L365.32,171.01 L365.43,170.41 L365.54,169.81 L365.65,169.20 L365.76,168.59 L365.87,167.97 L365.98,167.36 L366.10,166.74 L366.21,166.11 L366.32,165.48 L366.43,164.85 L366.54,164.21 L366.65,163.58 L366.76,162.93 L366.87,162.29 L366.98,161.63 L367.10,160.98 L367.21,160.32 L367.32,159.66 L367.43,158.99 L367.54,158.32 L367.65,157.65 L367.76,156.97 L367.87,156.29 L367.98,155.61 L368.10,154.92 L368.21,154.23 L368.32,153.53 L368.43,152.83 L368.54,152.13 L368.65,151.42 L368.76,150.71 L368.87,149.99 L368.98,149.27 L369.09,148.55 L369.21,147.82 L369.32,147.09 L369.43,146.36 L369.54,145.62 L369.65,144.88 L369.76,144.13 L369.87,143.38 L369.98,142.63 L370.09,141.87 L370.21,141.12 L370.32,140.35 L370.43,139.59 L370.54,138.82 L370.65,138.05 L370.76,137.27 L370.87,136.50 L370.98,135.72 L371.09,134.94 L371.21,134.15 L371.32,133.36 L371.43,132.58 L371.54,131.79 L371.65,130.99 L371.76,130.20 L371.87,129.41 L371.98,128.61 L372.09,127.82 L372.21,127.02 L372.32,126.23 L372.43,125.43 L372.54,124.64 L372.65,123.84 L372.76,123.05 L372.87,122.26 L372.98,121.48 L373.09,120.69 L373.21,119.92 L373.32,119.14 L373.43,118.37 L373.54,117.61 L373.65,116.85 L373.76,116.10 L373.87,115.36 L373.98,114.62 L374.09,113.90 L374.21,113.19 L374.32,112.49 L374.43,111.80 L374.54,111.13 L374.65,110.48 L374.76,109.84 L374.87,109.22 L374.98,108.62 L375.15,107.77 L375.32,106.97 L375.48,106.24 L375.65,105.57 L375.82,104.99 L376.04,104.36 L376.32,103.82 L376.93,103.93 L377.15,104.51 L377.32,105.17 L377.48,106.04 L377.59,106.75 L377.71,107.58 L377.82,108.51 L377.93,109.57 L378.04,110.75 L378.09,111.40 L378.15,112.07 L378.21,112.78 L378.26,113.53 L378.32,114.31 L378.37,115.14 L378.43,115.99 L378.48,116.89 L378.54,117.83 L378.59,118.81 L378.65,119.82 L378.71,120.88 L378.76,121.99 L378.82,123.13 L378.87,124.32 L378.93,125.56 L378.98,126.83 L379.04,128.16 L379.09,129.53 L379.15,130.94 L379.21,132.40 L379.26,133.91 L379.32,135.47 L379.37,137.08 L379.43,138.73 L379.48,140.43 L379.54,142.18 L379.59,143.98 L379.65,145.82 L379.71,147.72 L379.76,149.66 L379.82,151.65 L379.87,153.69 L379.93,155.77 L379.98,157.91 L380.04,160.08 L380.09,162.31 L380.15,164.58 L380.21,166.89 L380.26,169.25 L380.32,171.65 L380.37,174.09 L380.43,176.57 L380.48,179.09 L380.54,181.64 L380.59,184.24 L380.65,186.87 L380.70,189.53 L380.76,192.23 L380.82,194.95 L380.87,197.71 L380.93,200.49 L380.98,203.30 L381.04,206.13 L381.09,208.98 L381.15,211.86 L381.20,214.75 L381.26,217.66 L381.32,220.58 L381.37,223.52 L381.43,226.46 L381.48,229.41 L381.54,232.37 L381.59,235.34 L381.65,238.30 L381.70,241.27 L381.76,244.23 L381.82,247.20 L381.87,250.15 L381.93,253.10 L381.98,256.04 L382.04,258.97 L382.09,261.89 L382.15,264.79 L382.20,267.68 L382.26,270.55 L382.32,273.40 L382.37,276.23 L382.43,279.04 L382.48,281.82 L382.54,284.59 L382.59,287.32 L382.65,290.03 L382.70,292.72 L382.76,295.37 L382.82,298.00 L382.87,300.59 L382.93,303.16 L382.98,305.69 L383.04,308.19 L383.09,310.66 L383.15,313.09 L383.20,315.49 L383.26,317.86 L383.32,320.19 L383.37,322.49 L383.43,324.75 L383.48,326.98 L383.54,329.17 L383.59,331.32 L383.65,333.44 L383.70,335.53 L383.76,337.58 L383.82,339.59 L383.87,341.57 L383.93,343.51 L383.98,345.41 L384.04,347.29 L384.09,349.12 L384.15,350.93 L384.20,352.69 L384.26,354.43 L384.32,356.13 L384.37,357.80 L384.43,359.43 L384.48,361.03 L384.54,362.60 L384.59,364.14 L384.65,365.65 L384.70,367.12 L384.76,368.57 L384.82,369.98 L384.87,371.36 L384.93,372.72 L384.98,374.05 L385.04,375.34 L385.09,376.61 L385.15,377.86 L385.20,379.07 L385.26,380.26 L385.32,381.42 L385.37,382.56 L385.43,383.67 L385.48,384.75 L385.54,385.82 L385.59,386.85 L385.65,387.87 L385.70,388.86 L385.76,389.83 L385.82,390.77 L385.87,391.70 L385.93,392.60 L385.98,393.48 L386.04,394.35 L386.09,395.19 L386.15,396.01 L386.20,396.81 L386.26,397.60 L386.32,398.36 L386.37,399.11 L386.43,399.84 L386.48,400.55 L386.54,401.24 L386.59,401.92 L386.65,402.58 L386.70,403.22 L386.76,403.85 L386.82,404.47 L386.87,405.07 L386.98,406.22 L387.09,407.32 L387.20,408.36 L387.32,409.35 L387.43,410.29 L387.54,411.18 L387.65,412.03 L387.76,412.83 L387.87,413.59 L387.98,414.31 L388.09,414.99 L388.20,415.64 L388.32,416.25 L388.48,417.10 L388.65,417.88 L388.82,418.60 L388.98,419.25 L389.15,419.84 L389.37,420.54 L389.59,421.16 L389.87,421.81 L390.15,422.34 L390.48,422.84 L390.93,423.31 L391.48,423.60 L392.09,423.63 L392.70,423.41 L393.20,423.07 L393.70,422.62 L394.15,422.14 L394.54,421.67 L394.93,421.15 L395.31,420.59 L395.65,420.09 L395.98,419.56 L396.31,419.02 L396.65,418.46 L396.98,417.89 L397.31,417.30 L397.65,416.70 L397.98,416.09 L398.31,415.47 L398.65,414.84 L398.98,414.21 L399.26,413.68 L399.54,413.14 L399.81,412.60 L400.09,412.06 L400.37,411.52 L400.65,410.97 L400.93,410.42 L401.20,409.87 L401.48,409.32 L401.76,408.77 L402.04,408.22 L402.31,407.67 L402.59,407.11 L402.87,406.56 L403.15,406.01 L403.43,405.46 L403.70,404.91 L403.98,404.35 L404.26,403.80 L404.54,403.25 L404.81,402.71 L405.09,402.16 L405.37,401.61 L405.65,401.06 L405.92,400.52 L406.20,399.98 L406.48,399.43 L406.76,398.89 L407.04,398.35 L407.31,397.82 L407.59,397.28 L407.87,396.74 L408.15,396.21 L408.42,395.68 L408.76,395.04 L409.09,394.41 L409.42,393.78 L409.76,393.15 L410.09,392.52 L410.42,391.90 L410.76,391.27 L411.09,390.65 L411.42,390.04 L411.76,389.42 L412.09,388.81 L412.42,388.20 L412.76,387.59 L413.09,386.98 L413.42,386.38 L413.76,385.78 L414.09,385.18 L414.42,384.58 L414.76,383.99 L415.09,383.40 L415.42,382.81 L415.76,382.22 L416.09,381.63 L416.42,381.05 L416.76,380.47 L417.09,379.89 L417.42,379.32 L417.76,378.74 L418.09,378.17 L418.42,377.60 L418.76,377.03 L419.09,376.46 L419.42,375.90 L419.76,375.34 L420.09,374.77 L420.42,374.22 L420.76,373.66 L421.09,373.10 L421.42,372.55 L421.76,372.00 L422.09,371.45 L422.42,370.90 L422.76,370.35 L423.09,369.81 L423.42,369.27 L423.76,368.72 L424.09,368.18 L424.42,367.65 L424.76,367.11 L425.09,366.57 L425.42,366.04 L425.76,365.51 L426.09,364.98 L426.42,364.45 L426.76,363.92 L427.09,363.39 L427.42,362.87 L427.76,362.34 L428.09,361.82 L428.42,361.30 L428.76,360.78 L429.09,360.26 L429.42,359.74 L429.76,359.22 L430.09,358.71 L430.42,358.19 L430.76,357.68 L431.09,357.17 L431.42,356.66 L431.76,356.15 L432.09,355.64 L432.42,355.13 L432.76,354.62 L433.09,354.12 L433.42,353.61 L433.76,353.11 L434.09,352.60 L434.42,352.10 L434.76,351.60 L435.09,351.10 L435.42,350.59 L435.76,350.09 L436.09,349.60 L436.48,349.01 L436.87,348.43 L437.26,347.85 L437.64,347.28 L438.03,346.70 L438.42,346.12 L438.81,345.54 L439.20,344.97 L439.59,344.39 L439.98,343.82 L440.37,343.25 L440.76,342.67 L441.14,342.10 L441.53,341.53 L441.92,340.96 L442.31,340.39 L442.70,339.82 L443.09,339.25 L443.48,338.68 L443.87,338.11 L444.25,337.54 L444.64,336.97 L445.03,336.40 L445.42,335.84 L445.81,335.27 L446.20,334.70 L446.59,334.13 L446.98,333.56 L447.37,333.00 L447.75,332.43 L448.14,331.86 L448.53,331.30 L448.92,330.73 L449.31,330.16 L449.70,329.59 L450.09,329.03 L450.48,328.46 L450.87,327.89 L451.25,327.32 L451.64,326.75 L452.03,326.19 L452.42,325.62 L452.81,325.05 L453.20,324.48 L453.59,323.91 L453.98,323.34 L454.36,322.77 L454.75,322.19 L455.14,321.62 L455.53,321.05 L455.92,320.48 L456.31,319.90 L456.70,319.33 L457.09,318.75 L457.48,318.18 L457.86,317.60 L458.25,317.02 L458.64,316.44 L459.03,315.86 L459.42,315.28 L459.81,314.70 L460.20,314.12 L460.53,313.62 L460.86,313.12 L461.20,312.62 L461.53,312.12 L461.86,311.62 L462.20,311.11 L462.53,310.61 L462.86,310.10 L463.20,309.60 L463.53,309.09 L463.86,308.58 L464.20,308.07 L464.53,307.56 L464.86,307.05 L465.20,306.54 L465.53,306.03 L465.86,305.51 L466.20,305.00 L466.53,304.48 L466.86,303.96 L467.20,303.44 L467.53,302.92 L467.86,302.40 L468.20,301.88 L468.53,301.35 L468.86,300.83 L469.20,300.30 L469.53,299.77 L469.86,299.24 L470.20,298.71 L470.53,298.18 L470.86,297.65 L471.20,297.11 L471.53,296.57 L471.86,296.04 L472.20,295.50 L472.53,294.95 L472.86,294.41 L473.20,293.86 L473.53,293.32 L473.86,292.77 L474.20,292.22 L474.53,291.67 L474.86,291.11 L475.20,290.56 L475.53,290.00 L475.86,289.44 L476.20,288.87 L476.53,288.31 L476.86,287.74 L477.20,287.17 L477.53,286.60 L477.86,286.03 L478.20,285.46 L478.53,284.88 L478.86,284.30 L479.20,283.72 L479.53,283.13 L479.86,282.54 L480.20,281.95 L480.53,281.36 L480.86,280.77 L481.20,280.17 L481.53,279.57 L481.86,278.97 L482.20,278.36 L482.53,277.75 L482.86,277.14 L483.20,276.53 L483.53,275.91 L483.86,275.29 L484.20,274.67 L484.53,274.04 L484.86,273.41 L485.20,272.78 L485.53,272.14 L485.81,271.61 L486.08,271.07 L486.36,270.54 L486.64,270.00 L486.92,269.45 L487.20,268.91 L487.47,268.36 L487.75,267.81 L488.03,267.26 L488.31,266.70 L488.58,266.14 L488.86,265.58 L489.14,265.02 L489.42,264.45 L489.69,263.88 L489.97,263.31 L490.25,262.73 L490.53,262.16 L490.81,261.57 L491.08,260.99 L491.36,260.40 L491.64,259.81 L491.92,259.22 L492.19,258.62 L492.47,258.02 L492.75,257.41 L493.03,256.80 L493.31,256.19 L493.58,255.58 L493.86,254.96 L494.14,254.34 L494.42,253.71 L494.69,253.08 L494.97,252.44 L495.25,251.81 L495.53,251.16 L495.81,250.52 L496.08,249.87 L496.36,249.21 L496.64,248.56 L496.92,247.89 L497.19,247.22 L497.47,246.55 L497.75,245.88 L498.03,245.19 L498.31,244.51 L498.58,243.82 L498.86,243.12 L499.08,242.56 L499.31,242.00 L499.53,241.43 L499.75,240.86 L499.97,240.29 L500.19,239.71 L500.42,239.13 L500.64,238.54 L500.86,237.96 L501.08,237.37 L501.31,236.77 L501.53,236.17 L501.75,235.57 L501.97,234.96 L502.19,234.35 L502.42,233.74 L502.64,233.12 L502.86,232.50 L503.08,231.87 L503.30,231.24 L503.53,230.61 L503.75,229.97 L503.97,229.32 L504.19,228.67 L504.42,228.02 L504.64,227.36 L504.86,226.70 L505.08,226.04 L505.30,225.36 L505.53,224.69 L505.75,224.01 L505.97,223.32 L506.19,222.63 L506.42,221.93 L506.64,221.23 L506.86,220.52 L507.08,219.81 L507.30,219.09 L507.53,218.37 L507.75,217.64 L507.97,216.90 L508.19,216.16 L508.42,215.41 L508.64,214.66 L508.86,213.90 L509.08,213.13 L509.25,212.55 L509.42,211.97 L509.58,211.38 L509.75,210.79 L509.92,210.20 L510.08,209.60 L510.25,209.00 L510.42,208.39 L510.58,207.78 L510.75,207.17 L510.92,206.55 L511.08,205.93 L511.25,205.30 L511.42,204.67 L511.58,204.03 L511.75,203.39 L511.92,202.75 L512.08,202.10 L512.25,201.45 L512.42,200.79 L512.58,200.13 L512.75,199.46 L512.92,198.79 L513.08,198.11 L513.25,197.43 L513.42,196.74 L513.58,196.05 L513.75,195.35 L513.91,194.65 L514.08,193.94 L514.25,193.23 L514.41,192.51 L514.58,191.79 L514.75,191.06 L514.91,190.32 L515.08,189.58 L515.25,188.83 L515.41,188.08 L515.58,187.32 L515.75,186.56 L515.91,185.79 L516.08,185.01 L516.25,184.23 L516.41,183.44 L516.58,182.64 L516.75,181.84 L516.91,181.03 L517.08,180.21 L517.25,179.39 L517.41,178.56 L517.58,177.72 L517.75,176.88 L517.91,176.03 L518.08,175.17 L518.25,174.30 L518.41,173.43 L518.58,172.55 L518.69,171.96 L518.80,171.36 L518.91,170.77 L519.03,170.16 L519.14,169.56 L519.25,168.95 L519.36,168.34 L519.47,167.72 L519.58,167.10 L519.69,166.48 L519.80,165.86 L519.91,165.23 L520.03,164.59 L520.14,163.95 L520.25,163.31 L520.36,162.67 L520.47,162.02 L520.58,161.37 L520.69,160.71 L520.80,160.05 L520.91,159.39 L521.03,158.72 L521.14,158.05 L521.25,157.38 L521.36,156.70 L521.47,156.01 L521.58,155.33 L521.69,154.64 L521.80,153.94 L521.91,153.25 L522.03,152.54 L522.14,151.84 L522.25,151.13 L522.36,150.41 L522.47,149.70 L522.58,148.98 L522.69,148.25 L522.80,147.52 L522.91,146.79 L523.03,146.06 L523.14,145.32 L523.25,144.57 L523.36,143.83 L523.47,143.08 L523.58,142.32 L523.69,141.57 L523.80,140.80 L523.91,140.04 L524.03,139.27 L524.14,138.51 L524.25,137.73 L524.36,136.96 L524.47,136.18 L524.58,135.40 L524.69,134.62 L524.80,133.83 L524.91,133.04 L525.03,132.25 L525.14,131.46 L525.25,130.67 L525.36,129.88 L525.47,129.08 L525.58,128.29 L525.69,127.49 L525.80,126.70 L525.91,125.90 L526.02,125.11 L526.14,124.31 L526.25,123.52 L526.36,122.73 L526.47,121.94 L526.58,121.16 L526.69,120.38 L526.80,119.60 L526.91,118.83 L527.02,118.06 L527.14,117.30 L527.25,116.54 L527.36,115.80 L527.47,115.06 L527.58,114.33 L527.69,113.61 L527.80,112.90 L527.91,112.21 L528.02,111.53 L528.14,110.86 L528.25,110.21 L528.36,109.58 L528.47,108.97 L528.64,108.10 L528.80,107.28 L528.97,106.52 L529.14,105.83 L529.30,105.21 L529.52,104.53 L529.80,103.92 L530.41,103.82 L530.69,104.47 L530.86,105.12 L531.02,105.98 L531.14,106.68 L531.25,107.49 L531.36,108.42 L531.47,109.47 L531.58,110.64 L531.64,111.27 L531.69,111.94 L531.75,112.65 L531.80,113.39 L531.86,114.17 L531.91,114.98 L531.97,115.83 L532.02,116.72 L532.08,117.65 L532.14,118.62 L532.19,119.63 L532.25,120.69 L532.30,121.78 L532.36,122.92 L532.41,124.10 L532.47,125.32 L532.52,126.59 L532.58,127.91 L532.64,129.27 L532.69,130.68 L532.75,132.13 L532.80,133.63 L532.86,135.18 L532.91,136.78 L532.97,138.42 L533.02,140.11 L533.08,141.85 L533.14,143.64 L533.19,145.48 L533.25,147.36 L533.30,149.30 L533.36,151.28 L533.41,153.31 L533.47,155.39 L533.52,157.51 L533.58,159.68 L533.64,161.89 L533.69,164.15 L533.75,166.46 L533.80,168.81 L533.86,171.20 L533.91,173.63 L533.97,176.10 L534.02,178.62 L534.08,181.17 L534.14,183.76 L534.19,186.38 L534.25,189.04 L534.30,191.73 L534.36,194.45 L534.41,197.20 L534.47,199.97 L534.52,202.78 L534.58,205.60 L534.64,208.45 L534.69,211.33 L534.75,214.21 L534.80,217.12 L534.86,220.04 L534.91,222.97 L534.97,225.91 L535.02,228.87 L535.08,231.83 L535.14,234.79 L535.19,237.75 L535.25,240.72 L535.30,243.69 L535.36,246.65 L535.41,249.61 L535.47,252.56 L535.52,255.50 L535.58,258.43 L535.64,261.35 L535.69,264.25 L535.75,267.14 L535.80,270.02 L535.86,272.87 L535.91,275.71 L535.97,278.52 L536.02,281.31 L536.08,284.08 L536.14,286.82 L536.19,289.53 L536.25,292.22 L536.30,294.88 L536.36,297.51 L536.41,300.11 L536.47,302.69 L536.52,305.22 L536.58,307.73 L536.64,310.20 L536.69,312.65 L536.75,315.05 L536.80,317.42 L536.86,319.76 L536.91,322.07 L536.97,324.33 L537.02,326.57 L537.08,328.77 L537.14,330.93 L537.19,333.05 L537.25,335.14 L537.30,337.20 L537.36,339.22 L537.41,341.20 L537.47,343.15 L537.52,345.06 L537.58,346.94 L537.64,348.79 L537.69,350.60 L537.75,352.37 L537.80,354.11 L537.86,355.82 L537.91,357.49 L537.97,359.13 L538.02,360.74 L538.08,362.31 L538.13,363.86 L538.19,365.37 L538.25,366.85 L538.30,368.30 L538.36,369.72 L538.41,371.11 L538.47,372.47 L538.52,373.80 L538.58,375.11 L538.63,376.38 L538.69,377.63 L538.75,378.85 L538.80,380.04 L538.86,381.21 L538.91,382.35 L538.97,383.46 L539.02,384.56 L539.08,385.62 L539.13,386.66 L539.19,387.68 L539.25,388.68 L539.30,389.65 L539.36,390.60 L539.41,391.53 L539.47,392.44 L539.52,393.32 L539.58,394.19 L539.63,395.03 L539.69,395.86 L539.75,396.66 L539.80,397.45 L539.86,398.22 L539.91,398.97 L539.97,399.70 L540.02,400.42 L540.08,401.11 L540.13,401.79 L540.19,402.46 L540.25,403.11 L540.30,403.74 L540.36,404.35 L540.41,404.96 L540.52,406.11 L540.63,407.22 L540.75,408.26 L540.86,409.26 L540.97,410.20 L541.08,411.10 L541.19,411.95 L541.30,412.76 L541.41,413.52 L541.52,414.25 L541.63,414.93 L541.75,415.58 L541.86,416.20 L542.02,417.05 L542.19,417.84 L542.36,418.55 L542.52,419.21 L542.69,419.80 L542.91,420.51 L543.13,421.13 L543.41,421.79 L543.69,422.32 L544.02,422.83 L544.47,423.30 L545.02,423.60 L545.63,423.63 L546.25,423.41 L546.75,423.08 L547.25,422.63 L547.69,422.15 L548.08,421.68 L548.47,421.16 L548.86,420.61 L549.19,420.10 L549.52,419.58 L549.86,419.04 L550.19,418.48 L550.52,417.90 L550.86,417.32 L551.19,416.72 L551.52,416.11 L551.86,415.49 L552.19,414.86 L552.52,414.23 L552.80,413.70 L553.08,413.16 L553.36,412.62 L553.63,412.08 L553.91,411.54 L554.19,410.99 L554.47,410.44 L554.74,409.89 L555.02,409.34 L555.30,408.79 L555.58,408.24 L555.86,407.69 L556.13,407.13 L556.41,406.58 L556.69,406.03 L556.97,405.48 L557.24,404.93 L557.52,404.37 L557.80,403.82 L558.08,403.27 L558.36,402.73 L558.63,402.18 L558.91,401.63 L559.19,401.08 L559.47,400.54 L559.74,400.00 L560.02,399.45 L560.30,398.91 L560.58,398.37 L560.86,397.84 L561.13,397.30 L561.41,396.76 L561.69,396.23 L561.97,395.70 L562.30,395.06 L562.63,394.43 L562.97,393.80 L563.30,393.17 L563.63,392.54 L563.97,391.91 L564.30,391.29 L564.63,390.67 L564.97,390.05 L565.30,389.44 L565.63,388.83 L565.97,388.22 L566.30,387.61 L566.63,387.00 L566.97,386.40 L567.30,385.80 L567.63,385.20 L567.97,384.60 L568.30,384.01 L568.63,383.42 L568.97,382.83 L569.30,382.24 L569.63,381.65 L569.97,381.07 L570.30,380.49 L570.63,379.91 L570.97,379.33 L571.30,378.76 L571.63,378.19 L571.97,377.61 L572.30,377.05 L572.63,376.48 L572.97,375.92 L573.30,375.35 L573.63,374.79 L573.97,374.23 L574.30,373.68 L574.63,373.12 L574.96,372.57 L575.30,372.02 L575.63,371.47 L575.96,370.92 L576.30,370.37 L576.63,369.83 L576.96,369.28 L577.30,368.74 L577.63,368.20 L577.96,367.66 L578.30,367.13 L578.63,366.59 L578.96,366.06 L579.30,365.52 L579.63,364.99 L579.96,364.46 L580.30,363.94 L580.63,363.41 L580.96,362.88 L581.30,362.36 L581.63,361.84 L581.96,361.31 L582.30,360.79 L582.63,360.28 L582.96,359.76 L583.30,359.24 L583.63,358.72 L583.96,358.21 L584.30,357.70 L584.63,357.18 L584.96,356.67 L585.30,356.16 L585.63,355.65 L585.96,355.15 L586.30,354.64 L586.63,354.13 L586.96,353.63 L587.30,353.12 L587.63,352.62 L587.96,352.11 L588.30,351.61 L588.63,351.11 L588.96,350.61 L589.30,350.11 L589.63,349.61 L590.02,349.03 L590.41,348.45 L590.80,347.87 L591.19,347.29 L591.57,346.71 L591.96,346.14 L592.35,345.56 L592.74,344.98 L593.13,344.41 L593.52,343.84 L593.91,343.26 L594.30,342.69 L594.69,342.12 L595.07,341.54 L595.46,340.97 L595.85,340.40 L596.24,339.83 L596.63,339.26 L597.02,338.69 L597.41,338.12 L597.80,337.55 L598.19,336.99 L598.57,336.42 L598.96,335.85 L599.35,335.28 L599.74,334.71 L600.13,334.15 L600.52,333.58 L600.91,333.01 L601.30,332.45 L601.68,331.88 L602.07,331.31 L602.46,330.74 L602.85,330.18 L603.24,329.61 L603.63,329.04 L604.02,328.47 L604.41,327.91 L604.80,327.34 L605.18,326.77 L605.57,326.20 L605.96,325.63 L606.35,325.06 L606.74,324.49 L607.13,323.92 L607.52,323.35 L607.91,322.78 L608.30,322.21 L608.68,321.64 L609.07,321.06 L609.46,320.49 L609.85,319.92 L610.24,319.34 L610.63,318.77 L611.02,318.19 L611.41,317.62 L611.79,317.04 L612.18,316.46 L612.57,315.88 L612.96,315.30 L613.35,314.72 L613.74,314.14 L614.07,313.64 L614.41,313.14 L614.74,312.64 L615.07,312.13 L615.41,311.63 L615.74,311.13 L616.07,310.62 L616.41,310.12 L616.74,309.61 L617.07,309.11 L617.41,308.60 L617.74,308.09 L618.07,307.58 L618.41,307.07 L618.74,306.55 L619.07,306.04 L619.41,305.53 L619.74,305.01 L620.07,304.50 L620.41,303.98 L620.74,303.46 L621.07,302.94 L621.41,302.42 L621.74,301.89 L622.07,301.37 L622.41,300.85 L622.74,300.32 L623.07,299.79 L623.40,299.26 L623.74,298.73 L624.07,298.20 L624.40,297.66 L624.74,297.13 L625.07,296.59 L625.40,296.05 L625.74,295.51 L626.07,294.97 L626.40,294.43 L626.74,293.88 L627.07,293.33 L627.40,292.79 L627.74,292.24 L628.07,291.68 L628.40,291.13 L628.74,290.57 L629.07,290.01 L629.40,289.45 L629.74,288.89 L630.07,288.33 L630.40,287.76 L630.74,287.19 L631.07,286.62 L631.40,286.05 L631.74,285.47 L632.07,284.90 L632.40,284.32 L632.74,283.73 L633.07,283.15 L633.40,282.56 L633.74,281.97 L634.07,281.38 L634.40,280.79 L634.74,280.19 L635.07,279.59 L635.40,278.99 L635.74,278.38 L636.07,277.77 L636.40,277.16 L636.74,276.55 L637.07,275.93 L637.40,275.31 L637.74,274.69 L638.07,274.06 L638.40,273.43 L638.74,272.80 L639.07,272.16 L639.35,271.63 L639.63,271.09 L639.90,270.56 L640.18,270.02 L640.46,269.47 L640.74,268.93 L641.01,268.38 L641.29,267.83 L641.57,267.28 L641.85,266.72 L642.13,266.16 L642.40,265.60 L642.68,265.04 L642.96,264.47 L643.24,263.90 L643.51,263.33 L643.79,262.76 L644.07,262.18 L644.35,261.60 L644.63,261.01 L644.90,260.42 L645.18,259.83 L645.46,259.24 L645.74,258.64 L646.01,258.04 L646.29,257.43 L646.57,256.83 L646.85,256.21 L647.12,255.60 L647.40,254.98 L647.68,254.36 L647.96,253.73 L648.24,253.10 L648.51,252.47 L648.79,251.83 L649.07,251.19 L649.35,250.54 L649.62,249.89 L649.90,249.24 L650.18,248.58 L650.46,247.92 L650.74,247.25 L651.01,246.58 L651.29,245.90 L651.57,245.22 L651.85,244.53 L652.12,243.84 L652.40,243.15 L652.62,242.59 L652.85,242.02 L653.07,241.46 L653.29,240.89 L653.51,240.31 L653.74,239.74 L653.96,239.16 L654.18,238.57 L654.40,237.98 L654.62,237.39 L654.85,236.80 L655.07,236.20 L655.29,235.60 L655.51,234.99 L655.74,234.38 L655.96,233.77 L656.18,233.15 L656.40,232.53 L656.62,231.90 L656.85,231.27 L657.07,230.63 L657.29,230.00 L657.51,229.35 L657.74,228.70 L657.96,228.05 L658.18,227.39 L658.40,226.73 L658.62,226.07 L658.85,225.40 L659.07,224.72 L659.29,224.04 L659.51,223.35 L659.73,222.66 L659.96,221.96 L660.18,221.26 L660.40,220.55 L660.62,219.84 L660.85,219.12 L661.07,218.40 L661.29,217.67 L661.51,216.93 L661.73,216.19 L661.96,215.44 L662.18,214.69 L662.40,213.93 L662.62,213.16 L662.79,212.59 L662.96,212.00 L663.12,211.42 L663.29,210.83 L663.46,210.23 L663.62,209.63 L663.79,209.03 L663.96,208.43 L664.12,207.82 L664.29,207.20 L664.46,206.59 L664.62,205.96 L664.79,205.34 L664.96,204.71 L665.12,204.07 L665.29,203.43 L665.46,202.79 L665.62,202.14 L665.79,201.49 L665.96,200.83 L666.12,200.17 L666.29,199.50 L666.46,198.83 L666.62,198.15 L666.79,197.47 L666.96,196.78 L667.12,196.09 L667.29,195.40 L667.46,194.69 L667.62,193.99 L667.79,193.27 L667.96,192.56 L668.12,191.83 L668.29,191.10 L668.46,190.37 L668.62,189.63 L668.79,188.88 L668.96,188.13 L669.12,187.37 L669.29,186.61 L669.46,185.84 L669.62,185.06 L669.79,184.28 L669.96,183.49 L670.12,182.69 L670.29,181.89 L670.46,181.08 L670.62,180.26 L670.79,179.44 L670.96,178.61 L671.12,177.77 L671.29,176.93 L671.46,176.08 L671.62,175.22 L671.79,174.36 L671.96,173.48 L672.12,172.60 L672.23,172.01 L672.34,171.42 L672.46,170.82 L672.57,170.22 L672.68,169.62 L672.79,169.01 L672.90,168.40 L673.01,167.78 L673.12,167.16 L673.23,166.54 L673.34,165.91 L673.46,165.28 L673.57,164.65 L673.68,164.01 L673.79,163.37 L673.90,162.73 L674.01,162.08 L674.12,161.43 L674.23,160.77 L674.34,160.11 L674.46,159.45 L674.57,158.78 L674.68,158.11 L674.79,157.44 L674.90,156.76 L675.01,156.08 L675.12,155.39 L675.23,154.70 L675.34,154.01 L675.46,153.31 L675.57,152.61 L675.68,151.90 L675.79,151.19 L675.90,150.48 L676.01,149.76 L676.12,149.04 L676.23,148.32 L676.34,147.59 L676.46,146.86 L676.57,146.12 L676.68,145.38 L676.79,144.64 L676.90,143.90 L677.01,143.15 L677.12,142.39 L677.23,141.64 L677.34,140.88 L677.46,140.11 L677.57,139.35 L677.68,138.58 L677.79,137.80 L677.90,137.03 L678.01,136.25 L678.12,135.47 L678.23,134.69 L678.34,133.90 L678.46,133.12 L678.57,132.33 L678.68,131.54 L678.79,130.74 L678.90,129.95 L679.01,129.16 L679.12,128.36 L679.23,127.57 L679.34,126.77 L679.46,125.98 L679.57,125.18 L679.68,124.39 L679.79,123.59 L679.90,122.80 L680.01,122.02 L680.12,121.23 L680.23,120.45 L680.34,119.67 L680.46,118.90 L680.57,118.13 L680.68,117.37 L680.79,116.61 L680.90,115.86 L681.01,115.12 L681.12,114.39 L681.23,113.67 L681.34,112.97 L681.46,112.27 L681.57,111.59 L681.68,110.92 L681.79,110.27 L681.90,109.64 L682.01,109.03 L682.12,108.44 L682.29,107.59 L682.46,106.81 L682.62,106.09 L682.79,105.44 L683.01,104.71 L683.23,104.15 L683.62,103.64 L684.12,104.12 L684.34,104.84 L684.51,105.62 L684.62,106.26 L684.73,107.00 L684.84,107.86 L684.95,108.83 L685.07,109.93 L685.18,111.15 L685.23,111.82 L685.29,112.52 L685.34,113.25 L685.40,114.02 L685.45,114.83 L685.51,115.67 L685.57,116.55 L685.62,117.48 L685.68,118.44 L685.73,119.44 L685.79,120.49 L685.84,121.57 L685.90,122.70 L685.95,123.88 L686.01,125.09 L686.07,126.36 L686.12,127.66 L686.18,129.01 L686.23,130.41 L686.29,131.86 L686.34,133.35 L686.40,134.89 L686.45,136.48 L686.51,138.11 L686.57,139.80 L686.62,141.53 L686.68,143.31 L686.73,145.14 L686.79,147.01 L686.84,148.94 L686.90,150.91 L686.95,152.93 L687.01,155.00 L687.07,157.11 L687.12,159.27 L687.18,161.48 L687.23,163.73 L687.29,166.03 L687.34,168.37 L687.40,170.75 L687.45,173.18 L687.51,175.64 L687.57,178.15 L687.62,180.69 L687.68,183.27 L687.73,185.89 L687.79,188.54 L687.84,191.23 L687.90,193.94 L687.95,196.69 L688.01,199.46 L688.07,202.26 L688.12,205.08 L688.18,207.93 L688.23,210.79 L688.29,213.68 L688.34,216.58 L688.40,219.50 L688.45,222.43 L688.51,225.37 L688.57,228.32 L688.62,231.28 L688.68,234.24 L688.73,237.21 L688.79,240.17 L688.84,243.14 L688.90,246.10 L688.95,249.06 L689.01,252.01 L689.07,254.95 L689.12,257.89 L689.18,260.81 L689.23,263.72 L689.29,266.61 L689.34,269.49 L689.40,272.34 L689.45,275.18 L689.51,278.00 L689.57,280.80 L689.62,283.57 L689.68,286.31 L689.73,289.03 L689.79,291.73 L689.84,294.39 L689.90,297.03 L689.95,299.64 L690.01,302.21 L690.07,304.76 L690.12,307.27 L690.18,309.75 L690.23,312.20 L690.29,314.61 L690.34,316.99 L690.40,319.33 L690.45,321.64 L690.51,323.92 L690.57,326.16 L690.62,328.36 L690.68,330.53 L690.73,332.66 L690.79,334.76 L690.84,336.82 L690.90,338.85 L690.95,340.84 L691.01,342.79 L691.07,344.71 L691.12,346.60 L691.18,348.45 L691.23,350.26 L691.29,352.04 L691.34,353.79 L691.40,355.50 L691.45,357.18 L691.51,358.83 L691.57,360.44 L691.62,362.03 L691.68,363.57 L691.73,365.09 L691.79,366.58 L691.84,368.03 L691.90,369.46 L691.95,370.86 L692.01,372.22 L692.07,373.56 L692.12,374.87 L692.18,376.15 L692.23,377.40 L692.29,378.62 L692.34,379.82 L692.40,380.99 L692.45,382.14 L692.51,383.26 L692.57,384.36 L692.62,385.43 L692.68,386.47 L692.73,387.50 L692.79,388.50 L692.84,389.47 L692.90,390.43 L692.95,391.36 L693.01,392.27 L693.07,393.16 L693.12,394.03 L693.18,394.88 L693.23,395.71 L693.29,396.52 L693.34,397.31 L693.40,398.08 L693.45,398.83 L693.51,399.57 L693.57,400.29 L693.62,400.99 L693.68,401.67 L693.73,402.34 L693.79,402.99 L693.84,403.62 L693.90,404.24 L693.95,404.85 L694.07,406.01 L694.18,407.12 L694.29,408.17 L694.40,409.17 L694.51,410.12 L694.62,411.02 L694.73,411.87 L694.84,412.69 L694.95,413.45 L695.07,414.18 L695.18,414.87 L695.29,415.52 L695.40,416.14 L695.56,417.00 L695.73,417.79 L695.90,418.51 L696.06,419.17 L696.23,419.77 L696.45,420.48 L696.68,421.10 L696.95,421.76 L697.23,422.31 L697.56,422.82 L698.01,423.29 L698.56,423.60 L699.18,423.64 L699.79,423.42 L700.34,423.04 L700.84,422.59 L701.29,422.10 L701.68,421.62 L702.06,421.10 L702.45,420.54 L702.79,420.04 L703.12,419.51 L703.45,418.96 L703.79,418.40 L704.12,417.83 L704.45,417.24 L704.79,416.64 L705.12,416.02 L705.45,415.40 L705.79,414.78 L706.12,414.14 L706.40,413.61 L706.68,413.07 L706.95,412.53 L707.23,411.99 L707.51,411.45 L707.79,410.90 L708.06,410.35 L708.34,409.80 L708.62,409.25 L708.90,408.70 L709.17,408.15 L709.45,407.60 L709.73,407.04 L710.01,406.49 L710.29,405.94 L710.56,405.39 L710.84,404.84 L711.12,404.28 L711.40,403.73 L711.67,403.18 L711.95,402.64 L712.23,402.09 L712.51,401.54 L712.79,401.00 L713.06,400.45 L713.34,399.91 L713.62,399.37 L713.90,398.83 L714.17,398.29 L714.45,397.75 L714.73,397.21 L715.01,396.68 L715.29,396.14 L715.62,395.51 L715.95,394.87 L716.29,394.24 L716.62,393.61 L716.95,392.98 L717.29,392.35 L717.62,391.73 L717.95,391.10 L718.29,390.49 L718.62,389.87 L718.95,389.25 L719.29,388.64 L719.62,388.03 L719.95,387.42 L720.28,386.82 L720.62,386.22 L720.95,385.62 L721.28,385.02 L721.62,384.42 L721.95,383.83 L722.28,383.24 L722.62,382.65 L722.95,382.06 L723.28,381.48 L723.62,380.89 L723.95,380.31 L724.28,379.73 L724.62,379.16 L724.95,378.58 L725.28,378.01 L725.62,377.44 L725.95,376.87 L726.28,376.31 L726.62,375.74 L726.95,375.18 L727.28,374.62 L727.62,374.06 L727.95,373.51 L728.28,372.95 L728.62,372.40 L728.95,371.85 L729.28,371.30 L729.62,370.75 L729.95,370.21 L730.28,369.66 L730.62,369.12 L730.95,368.58 L731.28,368.04 L731.62,367.50 L731.95,366.96 L732.28,366.43 L732.62,365.90 L732.95,365.36 L733.28,364.83 L733.62,364.30 L733.95,363.78 L734.28,363.25 L734.62,362.72 L734.95,362.20 L735.28,361.68 L735.62,361.16 L735.95,360.64 L736.28,360.12 L736.62,359.60 L736.95,359.08 L737.28,358.57 L737.62,358.05 L737.95,357.54" stroke="#ff9634" stroke-width="1.15" stroke-dasharray="13.4 12.53" stroke-dashoffset="0"/>
</g>
<line x1="73.6" y1="62.35" x2="132.3" y2="62.35" stroke="#4a4aff" stroke-width="1.05"/>
<line x1="73.5" y1="88.2" x2="132.3" y2="88.2" stroke="#ffa044" stroke-width="1.1" stroke-dasharray="13.4 12.4" stroke-dashoffset="-16.2"/>
<line x1="62.5" y1="516.2" x2="735.95" y2="516.2" stroke="#3c3c3c" stroke-width="1.1" stroke-dasharray="2 7.055" stroke-dashoffset="0.66"/>
<g stroke="#ff3030" stroke-width="1.15">
<line x1="105.4" y1="483.9" x2="105.4" y2="521.8"/>
<line x1="157.5" y1="497.1" x2="157.5" y2="540.5"/>
<line x1="197.0" y1="497.7" x2="197.0" y2="541.9"/>
<line x1="390.1" y1="485.5" x2="390.1" y2="529.7"/>
<line x1="427.3" y1="530.2" x2="427.3" y2="569.6"/>
<line x1="431.6" y1="509.3" x2="431.6" y2="553.3"/>
<line x1="602.3" y1="489.3" x2="602.3" y2="532.3"/>
<line x1="605.8" y1="467.8" x2="605.8" y2="510.2"/>
<line x1="629.0" y1="489.0" x2="629.0" y2="533.2"/>
<line x1="682.1" y1="486.1" x2="682.1" y2="534.7"/>
<line x1="683.5" y1="501.9" x2="683.5" y2="540.5"/>
</g>
<g fill="#ff0000">
<circle cx="105.4" cy="502.6" r="5.9"/>
<circle cx="157.5" cy="518.7" r="5.9"/>
<circle cx="197.0" cy="519.5" r="5.9"/>
<circle cx="390.1" cy="507.5" r="5.9"/>
<circle cx="427.3" cy="549.9" r="5.9"/>
<circle cx="431.6" cy="531.3" r="5.9"/>
<circle cx="602.3" cy="510.8" r="5.9"/>
<circle cx="605.8" cy="489.0" r="5.9"/>
<circle cx="629.0" cy="510.8" r="5.9"/>
<circle cx="682.1" cy="510.4" r="5.9"/>
<circle cx="683.5" cy="521.2" r="5.9"/>
</g>
<g stroke="#424242" stroke-width="1.05" fill="none" stroke-linecap="butt">
<rect x="62.5" y="29.7" width="673.45" height="544.75"/>
<line x1="62.5" y1="457.6" x2="735.95" y2="457.6"/>
<path d="M73.66,29.7v4.7 M73.66,452.90000000000003v9.4 M73.66,574.45v-4.7 M96.90,29.7v4.7 M96.90,452.90000000000003v9.4 M96.90,574.45v-4.7 M120.15,29.7v4.7 M120.15,452.90000000000003v9.4 M120.15,574.45v-4.7 M143.40,29.7v9.2 M143.40,448.40000000000003v18.4 M143.40,574.45v-9.2 M166.65,29.7v4.7 M166.65,452.90000000000003v9.4 M166.65,574.45v-4.7 M189.90,29.7v4.7 M189.90,452.90000000000003v9.4 M189.90,574.45v-4.7 M213.14,29.7v4.7 M213.14,452.90000000000003v9.4 M213.14,574.45v-4.7 M236.39,29.7v4.7 M236.39,452.90000000000003v9.4 M236.39,574.45v-4.7 M259.64,29.7v9.2 M259.64,448.40000000000003v18.4 M259.64,574.45v-9.2 M282.89,29.7v4.7 M282.89,452.90000000000003v9.4 M282.89,574.45v-4.7 M306.14,29.7v4.7 M306.14,452.90000000000003v9.4 M306.14,574.45v-4.7 M329.38,29.7v4.7 M329.38,452.90000000000003v9.4 M329.38,574.45v-4.7 M352.63,29.7v4.7 M352.63,452.90000000000003v9.4 M352.63,574.45v-4.7 M375.88,29.7v9.2 M375.88,448.40000000000003v18.4 M375.88,574.45v-9.2 M399.13,29.7v4.7 M399.13,452.90000000000003v9.4 M399.13,574.45v-4.7 M422.38,29.7v4.7 M422.38,452.90000000000003v9.4 M422.38,574.45v-4.7 M445.62,29.7v4.7 M445.62,452.90000000000003v9.4 M445.62,574.45v-4.7 M468.87,29.7v4.7 M468.87,452.90000000000003v9.4 M468.87,574.45v-4.7 M492.12,29.7v9.2 M492.12,448.40000000000003v18.4 M492.12,574.45v-9.2 M515.37,29.7v4.7 M515.37,452.90000000000003v9.4 M515.37,574.45v-4.7 M538.62,29.7v4.7 M538.62,452.90000000000003v9.4 M538.62,574.45v-4.7 M561.86,29.7v4.7 M561.86,452.90000000000003v9.4 M561.86,574.45v-4.7 M585.11,29.7v4.7 M585.11,452.90000000000003v9.4 M585.11,574.45v-4.7 M608.36,29.7v9.2 M608.36,448.40000000000003v18.4 M608.36,574.45v-9.2 M631.61,29.7v4.7 M631.61,452.90000000000003v9.4 M631.61,574.45v-4.7 M654.86,29.7v4.7 M654.86,452.90000000000003v9.4 M654.86,574.45v-4.7 M678.10,29.7v4.7 M678.10,452.90000000000003v9.4 M678.10,574.45v-4.7 M701.35,29.7v4.7 M701.35,452.90000000000003v9.4 M701.35,574.45v-4.7 M724.60,29.7v9.2 M724.60,448.40000000000003v18.4 M724.60,574.45v-9.2 M62.5,425.27h9.2 M735.95,425.27h-9.2 M62.5,360.45h4.7 M735.95,360.45h-4.7 M62.5,295.64h9.2 M735.95,295.64h-9.2 M62.5,230.82h4.7 M735.95,230.82h-4.7 M62.5,166.01h9.2 M735.95,166.01h-9.2 M62.5,101.19h4.7 M735.95,101.19h-4.7 M62.5,36.38h9.2 M735.95,36.38h-9.2 M62.5,570.38h4.7 M735.95,570.38h-4.7 M62.5,564.36h4.7 M735.95,564.36h-4.7 M62.5,558.34h4.7 M735.95,558.34h-4.7 M62.5,552.32h4.7 M735.95,552.32h-4.7 M62.5,546.30h9.2 M735.95,546.30h-9.2 M62.5,540.28h4.7 M735.95,540.28h-4.7 M62.5,534.26h4.7 M735.95,534.26h-4.7 M62.5,528.24h4.7 M735.95,528.24h-4.7 M62.5,522.22h4.7 M735.95,522.22h-4.7 M62.5,516.20h9.2 M735.95,516.20h-9.2 M62.5,510.18h4.7 M735.95,510.18h-4.7 M62.5,504.16h4.7 M735.95,504.16h-4.7 M62.5,498.14h4.7 M735.95,498.14h-4.7 M62.5,492.12h4.7 M735.95,492.12h-4.7 M62.5,486.10h9.2 M735.95,486.10h-9.2 M62.5,480.08h4.7 M735.95,480.08h-4.7 M62.5,474.06h4.7 M735.95,474.06h-4.7 M62.5,468.04h4.7 M735.95,468.04h-4.7 M62.5,462.02h4.7 M735.95,462.02h-4.7"/>
</g>
<g font-family="'Liberation Serif', serif" fill="#404040" style="white-space:pre">
<text transform="translate(315.00,17.80) scale(0.9200,1)" x="-0.54" y="0" font-size="24.2" letter-spacing="0.031" word-spacing="0">KIC</text>
<text transform="translate(367.60,17.80) scale(1.1600,1)" x="-0.43" y="0" font-size="24.2" letter-spacing="0.556" word-spacing="0">10614012</text>
<text transform="translate(140.90,68.60) scale(1.1000,1)" x="-0.45" y="0" font-size="19.6" letter-spacing="0.505" word-spacing="0">This</text>
<text transform="translate(192.10,68.60) scale(1.1000,1)" x="-0.45" y="0" font-size="19.6" letter-spacing="0.723" word-spacing="0">work</text>
<text transform="translate(141.00,94.80) scale(1.1000,1)" x="-0.45" y="0" font-size="19.6" letter-spacing="0.788" word-spacing="0">Beck</text>
<text transform="translate(198.40,94.80) scale(1.1600,1)" x="-0.43" y="0" font-size="19.6" letter-spacing="-0.306" word-spacing="0">&#8242;14</text>
<text transform="translate(143.40,597.20) scale(1.1600,1)" x="-19.91" y="0" font-size="19.6" letter-spacing="0.209" word-spacing="0">6900</text>
<text transform="translate(259.64,597.20) scale(1.1600,1)" x="-19.91" y="0" font-size="19.6" letter-spacing="0.209" word-spacing="0">7000</text>
<text transform="translate(375.88,597.20) scale(1.1600,1)" x="-19.91" y="0" font-size="19.6" letter-spacing="0.209" word-spacing="0">7100</text>
<text transform="translate(492.12,597.20) scale(1.1600,1)" x="-19.91" y="0" font-size="19.6" letter-spacing="0.209" word-spacing="0">7200</text>
<text transform="translate(608.36,597.20) scale(1.1600,1)" x="-19.91" y="0" font-size="19.6" letter-spacing="0.209" word-spacing="0">7300</text>
<text transform="translate(724.60,597.20) scale(1.1600,1)" x="-19.91" y="0" font-size="19.6" letter-spacing="0.209" word-spacing="0">7400</text>
<text transform="translate(399.20,612.80) scale(1.1000,1)" x="-21.64" y="0" font-size="19.6" letter-spacing="0.866" word-spacing="0">Time</text>
<text transform="translate(48.80,36.38) rotate(-90) scale(1.1600,1)" x="-9.70" y="0" font-size="19.6" letter-spacing="-0.203" word-spacing="0">40</text>
<text transform="translate(48.80,166.01) rotate(-90) scale(1.1600,1)" x="-9.70" y="0" font-size="19.6" letter-spacing="-0.203" word-spacing="0">20</text>
<text transform="translate(48.80,295.64) rotate(-90) scale(1.1600,1)" x="-4.90" y="0" font-size="19.6" letter-spacing="-0.059" word-spacing="0">0</text>
<text transform="translate(48.80,425.27) rotate(-90) scale(1.1600,1)" x="-15.65" y="0" font-size="19.6" letter-spacing="0.319" word-spacing="0">&#8722;20</text>
<text transform="translate(48.80,486.10) rotate(-90) scale(1.1600,1)" x="-16.55" y="0" font-size="19.6" letter-spacing="-0.399" word-spacing="0">0.05</text>
<text transform="translate(48.80,516.20) rotate(-90) scale(1.1600,1)" x="-4.90" y="0" font-size="19.6" letter-spacing="-0.059" word-spacing="0">0</text>
<text transform="translate(48.80,546.30) rotate(-90) scale(1.1600,1)" x="-22.67" y="0" font-size="19.6" letter-spacing="-0.003" word-spacing="0">&#8722;0.05</text>
<text transform="translate(17.30,295.10) rotate(-90) scale(1.1000,1)" x="-0.45" y="0" font-size="20.200000000000003" letter-spacing="0.008" word-spacing="0">RV</text>
<g transform="translate(17.3,260.3) rotate(-90)"><text transform="translate(6.3,0) scale(1.24,1)" x="0" y="0" font-size="20.2">k</text><text transform="translate(20.4,0) scale(1.06,1)" x="0" y="0" font-size="20.2">m</text><text transform="translate(50.5,0) scale(1.2,1)" x="0" y="0" font-size="20.2">s</text><path d="M4.4,-16 H0.6 V3.5 H4.4 M63.1,-16 H66.9 V3.5 H63.1 M39.9,3.1 L50.3,-16.2" fill="none" stroke="#404040" stroke-width="1.15"/></g>
<text transform="translate(17.30,575.10) rotate(-90) scale(1.1000,1)" x="-0.45" y="0" font-size="20.200000000000003" letter-spacing="-0.363" word-spacing="0">O&#8722;C</text>
<g transform="translate(17.3,525.0) rotate(-90)"><text transform="translate(6.3,0) scale(1.24,1)" x="0" y="0" font-size="20.2">k</text><text transform="translate(20.4,0) scale(1.06,1)" x="0" y="0" font-size="20.2">m</text><text transform="translate(50.5,0) scale(1.2,1)" x="0" y="0" font-size="20.2">s</text><path d="M4.4,-16 H0.6 V3.5 H4.4 M63.1,-16 H66.9 V3.5 H63.1 M39.9,3.1 L50.3,-16.2" fill="none" stroke="#404040" stroke-width="1.15"/></g>
</g>
</svg>
</body></html>
